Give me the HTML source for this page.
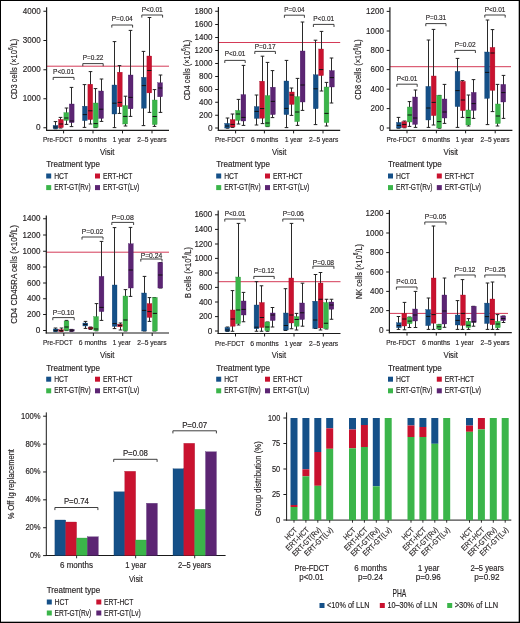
<!DOCTYPE html><html><head><meta charset="utf-8"><title>Figure</title><style>html,body{margin:0;padding:0;background:#fff;overflow:hidden;}svg{display:block;will-change:transform;}text{font-family:"Liberation Sans", sans-serif;stroke:#231f20;stroke-width:0.16px;}</style></head><body>
<svg width="520" height="623" viewBox="0 0 520 623">
<rect x="0" y="0" width="520" height="623" fill="#fff"/>
<line x1="46.6" y1="66.2" x2="169" y2="66.2" stroke="#d43a57" stroke-width="1"/>
<line x1="55.5" y1="121.6" x2="55.5" y2="128.8" stroke="#2a2a2a" stroke-width="1"/>
<line x1="53.7" y1="121.6" x2="57.3" y2="121.6" stroke="#222" stroke-width="1"/>
<line x1="53.7" y1="128.8" x2="57.3" y2="128.8" stroke="#222" stroke-width="1"/>
<rect x="53.1" y="125.4" width="4.8" height="3.2" fill="#155088" stroke="#0f3f70" stroke-width="0.35"/>
<line x1="53.4" y1="127" x2="57.6" y2="127" stroke="#111" stroke-width="1"/>
<line x1="60.5" y1="117.4" x2="60.5" y2="128" stroke="#2a2a2a" stroke-width="1"/>
<line x1="58.7" y1="117.4" x2="62.3" y2="117.4" stroke="#222" stroke-width="1"/>
<line x1="58.7" y1="128" x2="62.3" y2="128" stroke="#222" stroke-width="1"/>
<rect x="58.5" y="119.4" width="4.8" height="8.2" fill="#c9122f" stroke="#a80f29" stroke-width="0.35"/>
<line x1="58.8" y1="124" x2="63" y2="124" stroke="#111" stroke-width="1"/>
<line x1="66.5" y1="108" x2="66.5" y2="124.4" stroke="#2a2a2a" stroke-width="1"/>
<line x1="64.7" y1="108" x2="68.3" y2="108" stroke="#222" stroke-width="1"/>
<line x1="64.7" y1="124.4" x2="68.3" y2="124.4" stroke="#222" stroke-width="1"/>
<rect x="63.9" y="112.6" width="4.8" height="7.8" fill="#3bb54a" stroke="#2f9a3d" stroke-width="0.35"/>
<line x1="64.2" y1="118" x2="68.4" y2="118" stroke="#111" stroke-width="1"/>
<line x1="71.5" y1="87.4" x2="71.5" y2="126.6" stroke="#2a2a2a" stroke-width="1"/>
<line x1="69.7" y1="87.4" x2="73.3" y2="87.4" stroke="#222" stroke-width="1"/>
<line x1="69.7" y1="126.6" x2="73.3" y2="126.6" stroke="#222" stroke-width="1"/>
<rect x="69.3" y="104" width="4.8" height="18.6" fill="#5c2573" stroke="#471866" stroke-width="0.35"/>
<line x1="69.6" y1="121" x2="73.8" y2="121" stroke="#111" stroke-width="1"/>
<line x1="84.5" y1="84.6" x2="84.5" y2="127.4" stroke="#2a2a2a" stroke-width="1"/>
<line x1="82.7" y1="84.6" x2="86.3" y2="84.6" stroke="#222" stroke-width="1"/>
<line x1="82.7" y1="127.4" x2="86.3" y2="127.4" stroke="#222" stroke-width="1"/>
<rect x="82.5" y="106.2" width="4.8" height="14.4" fill="#155088" stroke="#0f3f70" stroke-width="0.35"/>
<line x1="82.8" y1="114.6" x2="87" y2="114.6" stroke="#111" stroke-width="1"/>
<line x1="90.5" y1="71.6" x2="90.5" y2="124" stroke="#2a2a2a" stroke-width="1"/>
<line x1="88.7" y1="71.6" x2="92.3" y2="71.6" stroke="#222" stroke-width="1"/>
<line x1="88.7" y1="124" x2="92.3" y2="124" stroke="#222" stroke-width="1"/>
<rect x="87.9" y="84.2" width="4.8" height="35.4" fill="#c9122f" stroke="#a80f29" stroke-width="0.35"/>
<line x1="88.2" y1="110.8" x2="92.4" y2="110.8" stroke="#111" stroke-width="1"/>
<line x1="95.5" y1="88.6" x2="95.5" y2="127.6" stroke="#2a2a2a" stroke-width="1"/>
<line x1="93.7" y1="88.6" x2="97.3" y2="88.6" stroke="#222" stroke-width="1"/>
<line x1="93.7" y1="127.6" x2="97.3" y2="127.6" stroke="#222" stroke-width="1"/>
<rect x="93.3" y="103" width="4.8" height="24.4" fill="#3bb54a" stroke="#2f9a3d" stroke-width="0.35"/>
<line x1="93.6" y1="123.6" x2="97.8" y2="123.6" stroke="#111" stroke-width="1"/>
<line x1="101.5" y1="79" x2="101.5" y2="121.4" stroke="#2a2a2a" stroke-width="1"/>
<line x1="99.7" y1="79" x2="103.3" y2="79" stroke="#222" stroke-width="1"/>
<line x1="99.7" y1="121.4" x2="103.3" y2="121.4" stroke="#222" stroke-width="1"/>
<rect x="98.7" y="91" width="4.8" height="27.4" fill="#5c2573" stroke="#471866" stroke-width="0.35"/>
<line x1="99" y1="109.2" x2="103.2" y2="109.2" stroke="#111" stroke-width="1"/>
<line x1="114.5" y1="41.6" x2="114.5" y2="127.6" stroke="#2a2a2a" stroke-width="1"/>
<line x1="112.7" y1="41.6" x2="116.3" y2="41.6" stroke="#222" stroke-width="1"/>
<line x1="112.7" y1="127.6" x2="116.3" y2="127.6" stroke="#222" stroke-width="1"/>
<rect x="112" y="85" width="4.8" height="29" fill="#155088" stroke="#0f3f70" stroke-width="0.35"/>
<line x1="112.3" y1="103.2" x2="116.5" y2="103.2" stroke="#111" stroke-width="1"/>
<line x1="119.5" y1="65.6" x2="119.5" y2="113.4" stroke="#2a2a2a" stroke-width="1"/>
<line x1="117.7" y1="65.6" x2="121.3" y2="65.6" stroke="#222" stroke-width="1"/>
<line x1="117.7" y1="113.4" x2="121.3" y2="113.4" stroke="#222" stroke-width="1"/>
<rect x="117.4" y="72.2" width="4.8" height="34.6" fill="#c9122f" stroke="#a80f29" stroke-width="0.35"/>
<line x1="117.7" y1="102.4" x2="121.9" y2="102.4" stroke="#111" stroke-width="1"/>
<line x1="125.5" y1="96.2" x2="125.5" y2="126" stroke="#2a2a2a" stroke-width="1"/>
<line x1="123.7" y1="96.2" x2="127.3" y2="96.2" stroke="#222" stroke-width="1"/>
<line x1="123.7" y1="126" x2="127.3" y2="126" stroke="#222" stroke-width="1"/>
<rect x="122.8" y="105.6" width="4.8" height="18.4" fill="#3bb54a" stroke="#2f9a3d" stroke-width="0.35"/>
<line x1="123.1" y1="116.4" x2="127.3" y2="116.4" stroke="#111" stroke-width="1"/>
<line x1="130.5" y1="30.4" x2="130.5" y2="116.4" stroke="#2a2a2a" stroke-width="1"/>
<line x1="128.7" y1="30.4" x2="132.3" y2="30.4" stroke="#222" stroke-width="1"/>
<line x1="128.7" y1="116.4" x2="132.3" y2="116.4" stroke="#222" stroke-width="1"/>
<rect x="128.2" y="75" width="4.8" height="33.8" fill="#5c2573" stroke="#471866" stroke-width="0.35"/>
<line x1="128.5" y1="97.4" x2="132.7" y2="97.4" stroke="#111" stroke-width="1"/>
<line x1="143.5" y1="51.4" x2="143.5" y2="125.6" stroke="#2a2a2a" stroke-width="1"/>
<line x1="141.7" y1="51.4" x2="145.3" y2="51.4" stroke="#222" stroke-width="1"/>
<line x1="141.7" y1="125.6" x2="145.3" y2="125.6" stroke="#222" stroke-width="1"/>
<rect x="141.5" y="77.3" width="4.8" height="30.9" fill="#155088" stroke="#0f3f70" stroke-width="0.35"/>
<line x1="141.8" y1="85.6" x2="146" y2="85.6" stroke="#111" stroke-width="1"/>
<line x1="149.5" y1="17.5" x2="149.5" y2="112.4" stroke="#2a2a2a" stroke-width="1"/>
<line x1="147.7" y1="17.5" x2="151.3" y2="17.5" stroke="#222" stroke-width="1"/>
<line x1="147.7" y1="112.4" x2="151.3" y2="112.4" stroke="#222" stroke-width="1"/>
<rect x="146.9" y="56" width="4.8" height="36.9" fill="#c9122f" stroke="#a80f29" stroke-width="0.35"/>
<line x1="147.2" y1="70.5" x2="151.4" y2="70.5" stroke="#111" stroke-width="1"/>
<line x1="154.5" y1="89.6" x2="154.5" y2="126.4" stroke="#2a2a2a" stroke-width="1"/>
<line x1="152.7" y1="89.6" x2="156.3" y2="89.6" stroke="#222" stroke-width="1"/>
<line x1="152.7" y1="126.4" x2="156.3" y2="126.4" stroke="#222" stroke-width="1"/>
<rect x="152.3" y="100" width="4.8" height="24.6" fill="#3bb54a" stroke="#2f9a3d" stroke-width="0.35"/>
<line x1="152.6" y1="116.5" x2="156.8" y2="116.5" stroke="#111" stroke-width="1"/>
<line x1="160.5" y1="75" x2="160.5" y2="112.4" stroke="#2a2a2a" stroke-width="1"/>
<line x1="158.7" y1="75" x2="162.3" y2="75" stroke="#222" stroke-width="1"/>
<line x1="158.7" y1="112.4" x2="162.3" y2="112.4" stroke="#222" stroke-width="1"/>
<rect x="157.7" y="82.8" width="4.8" height="14" fill="#5c2573" stroke="#471866" stroke-width="0.35"/>
<line x1="158" y1="88" x2="162.2" y2="88" stroke="#111" stroke-width="1"/>
<line x1="46.6" y1="7.2" x2="46.6" y2="131" stroke="#1a1a1a" stroke-width="1.2"/>
<line x1="46" y1="130.4" x2="169" y2="130.4" stroke="#1a1a1a" stroke-width="1.2"/>
<line x1="43.4" y1="11.25" x2="46.6" y2="11.25" stroke="#1a1a1a" stroke-width="1"/>
<text x="22.8" y="13.75" font-size="8.6" textLength="17.9" lengthAdjust="spacingAndGlyphs" fill="#231f20">4000</text>
<line x1="43.4" y1="40.5" x2="46.6" y2="40.5" stroke="#1a1a1a" stroke-width="1"/>
<text x="22.8" y="43" font-size="8.6" textLength="17.9" lengthAdjust="spacingAndGlyphs" fill="#231f20">3000</text>
<line x1="43.4" y1="69.75" x2="46.6" y2="69.75" stroke="#1a1a1a" stroke-width="1"/>
<text x="22.8" y="72.25" font-size="8.6" textLength="17.9" lengthAdjust="spacingAndGlyphs" fill="#231f20">2000</text>
<line x1="43.4" y1="98.75" x2="46.6" y2="98.75" stroke="#1a1a1a" stroke-width="1"/>
<text x="22.8" y="101.25" font-size="8.6" textLength="17.9" lengthAdjust="spacingAndGlyphs" fill="#231f20">1000</text>
<line x1="43.4" y1="127.75" x2="46.6" y2="127.75" stroke="#1a1a1a" stroke-width="1"/>
<text x="36.1" y="130.25" font-size="8.6" textLength="4.6" lengthAdjust="spacingAndGlyphs" fill="#231f20">0</text>
<line x1="63.6" y1="130.4" x2="63.6" y2="133.4" stroke="#1a1a1a" stroke-width="1"/>
<line x1="93" y1="130.4" x2="93" y2="133.4" stroke="#1a1a1a" stroke-width="1"/>
<line x1="122.5" y1="130.4" x2="122.5" y2="133.4" stroke="#1a1a1a" stroke-width="1"/>
<line x1="152" y1="130.4" x2="152" y2="133.4" stroke="#1a1a1a" stroke-width="1"/>
<path d="M53.2 80V77.4H74V80" fill="none" stroke="#2a2a2a" stroke-width="0.9"/>
<text x="53.05" y="74" font-size="7.9" textLength="21.1" lengthAdjust="spacingAndGlyphs" fill="#231f20">P&lt;0.01</text>
<path d="M82.8 66.2V63.6H103.2V66.2" fill="none" stroke="#2a2a2a" stroke-width="0.9"/>
<text x="82.65" y="59.8" font-size="7.9" textLength="20.7" lengthAdjust="spacingAndGlyphs" fill="#231f20">P=0.22</text>
<path d="M111.8 27.6V25H132.6V27.6" fill="none" stroke="#2a2a2a" stroke-width="0.9"/>
<text x="111.65" y="21.2" font-size="7.9" textLength="21.1" lengthAdjust="spacingAndGlyphs" fill="#231f20">P=0.04</text>
<path d="M141.8 17.6V15H162.6V17.6" fill="none" stroke="#2a2a2a" stroke-width="0.9"/>
<text x="141.65" y="12" font-size="7.9" textLength="21.1" lengthAdjust="spacingAndGlyphs" fill="#231f20">P&lt;0.01</text>
<text x="43" y="142.2" font-size="7.6" textLength="29.6" lengthAdjust="spacingAndGlyphs" fill="#231f20">Pre-FDCT</text>
<text x="78.8" y="142.2" font-size="7.6" textLength="27.8" lengthAdjust="spacingAndGlyphs" fill="#231f20">6 months</text>
<text x="112.8" y="142.2" font-size="7.6" textLength="17.8" lengthAdjust="spacingAndGlyphs" fill="#231f20">1 year</text>
<text x="137.2" y="142.2" font-size="7.6" textLength="29.4" lengthAdjust="spacingAndGlyphs" fill="#231f20">2–5 years</text>
<text x="100" y="155" font-size="9.6" textLength="14.4" lengthAdjust="spacingAndGlyphs" fill="#231f20" stroke-width="0">Visit</text>
<text transform="translate(16.6 69) rotate(-90)" x="-30.35" y="0" font-size="9.7" textLength="60.7" lengthAdjust="spacingAndGlyphs" fill="#231f20">CD3 cells (×10<tspan dy="-3.3" font-size="6.4">6</tspan><tspan dy="3.3">/L)</tspan></text>
<text x="46.2" y="167.4" font-size="8.3" textLength="53.8" lengthAdjust="spacingAndGlyphs" fill="#231f20">Treatment type</text>
<rect x="46.2" y="173.5" width="5" height="5" fill="#155088"/>
<text x="54.2" y="178.5" font-size="8.4" textLength="14" lengthAdjust="spacingAndGlyphs" fill="#231f20">HCT</text>
<rect x="95" y="173.5" width="5" height="5" fill="#c9122f"/>
<text x="103" y="178.5" font-size="8.4" textLength="29.4" lengthAdjust="spacingAndGlyphs" fill="#231f20">ERT-HCT</text>
<rect x="46.2" y="185.1" width="5" height="5" fill="#3bb54a"/>
<text x="54.2" y="190.1" font-size="8.4" textLength="36.4" lengthAdjust="spacingAndGlyphs" fill="#231f20">ERT-GT(Rv)</text>
<rect x="95" y="185.1" width="5" height="5" fill="#5c2573"/>
<text x="103" y="190.1" font-size="8.4" textLength="36.3" lengthAdjust="spacingAndGlyphs" fill="#231f20">ERT-GT(Lv)</text>
<line x1="218.4" y1="42.5" x2="340.2" y2="42.5" stroke="#d43a57" stroke-width="1"/>
<line x1="227.5" y1="118" x2="227.5" y2="128.2" stroke="#2a2a2a" stroke-width="1"/>
<line x1="225.7" y1="118" x2="229.3" y2="118" stroke="#222" stroke-width="1"/>
<line x1="225.7" y1="128.2" x2="229.3" y2="128.2" stroke="#222" stroke-width="1"/>
<rect x="224.8" y="123.4" width="4.8" height="4.6" fill="#155088" stroke="#0f3f70" stroke-width="0.35"/>
<line x1="225.1" y1="126" x2="229.3" y2="126" stroke="#111" stroke-width="1"/>
<line x1="232.5" y1="114" x2="232.5" y2="127.4" stroke="#2a2a2a" stroke-width="1"/>
<line x1="230.7" y1="114" x2="234.3" y2="114" stroke="#222" stroke-width="1"/>
<line x1="230.7" y1="127.4" x2="234.3" y2="127.4" stroke="#222" stroke-width="1"/>
<rect x="230.2" y="119.6" width="4.8" height="7.4" fill="#c9122f" stroke="#a80f29" stroke-width="0.35"/>
<line x1="230.5" y1="124.4" x2="234.7" y2="124.4" stroke="#111" stroke-width="1"/>
<line x1="238.5" y1="99.4" x2="238.5" y2="124" stroke="#2a2a2a" stroke-width="1"/>
<line x1="236.7" y1="99.4" x2="240.3" y2="99.4" stroke="#222" stroke-width="1"/>
<line x1="236.7" y1="124" x2="240.3" y2="124" stroke="#222" stroke-width="1"/>
<rect x="235.6" y="110.4" width="4.8" height="10" fill="#3bb54a" stroke="#2f9a3d" stroke-width="0.35"/>
<line x1="235.9" y1="114" x2="240.1" y2="114" stroke="#111" stroke-width="1"/>
<line x1="243.5" y1="65.4" x2="243.5" y2="125.4" stroke="#2a2a2a" stroke-width="1"/>
<line x1="241.7" y1="65.4" x2="245.3" y2="65.4" stroke="#222" stroke-width="1"/>
<line x1="241.7" y1="125.4" x2="245.3" y2="125.4" stroke="#222" stroke-width="1"/>
<rect x="241" y="94.6" width="4.8" height="26.4" fill="#5c2573" stroke="#471866" stroke-width="0.35"/>
<line x1="241.3" y1="117.4" x2="245.5" y2="117.4" stroke="#111" stroke-width="1"/>
<line x1="256.5" y1="95" x2="256.5" y2="125" stroke="#2a2a2a" stroke-width="1"/>
<line x1="254.7" y1="95" x2="258.3" y2="95" stroke="#222" stroke-width="1"/>
<line x1="254.7" y1="125" x2="258.3" y2="125" stroke="#222" stroke-width="1"/>
<rect x="254.3" y="106.6" width="4.8" height="11.8" fill="#155088" stroke="#0f3f70" stroke-width="0.35"/>
<line x1="254.6" y1="111.4" x2="258.8" y2="111.4" stroke="#111" stroke-width="1"/>
<line x1="262.5" y1="56.2" x2="262.5" y2="123.6" stroke="#2a2a2a" stroke-width="1"/>
<line x1="260.7" y1="56.2" x2="264.3" y2="56.2" stroke="#222" stroke-width="1"/>
<line x1="260.7" y1="123.6" x2="264.3" y2="123.6" stroke="#222" stroke-width="1"/>
<rect x="259.7" y="81.2" width="4.8" height="37" fill="#c9122f" stroke="#a80f29" stroke-width="0.35"/>
<line x1="260" y1="108.6" x2="264.2" y2="108.6" stroke="#111" stroke-width="1"/>
<line x1="267.5" y1="62.4" x2="267.5" y2="126.6" stroke="#2a2a2a" stroke-width="1"/>
<line x1="265.7" y1="62.4" x2="269.3" y2="62.4" stroke="#222" stroke-width="1"/>
<line x1="265.7" y1="126.6" x2="269.3" y2="126.6" stroke="#222" stroke-width="1"/>
<rect x="265.1" y="95.6" width="4.8" height="30.8" fill="#3bb54a" stroke="#2f9a3d" stroke-width="0.35"/>
<line x1="265.4" y1="123" x2="269.6" y2="123" stroke="#111" stroke-width="1"/>
<line x1="272.5" y1="70.6" x2="272.5" y2="117.6" stroke="#2a2a2a" stroke-width="1"/>
<line x1="270.7" y1="70.6" x2="274.3" y2="70.6" stroke="#222" stroke-width="1"/>
<line x1="270.7" y1="117.6" x2="274.3" y2="117.6" stroke="#222" stroke-width="1"/>
<rect x="270.5" y="87.2" width="4.8" height="27.4" fill="#5c2573" stroke="#471866" stroke-width="0.35"/>
<line x1="270.8" y1="101.4" x2="275" y2="101.4" stroke="#111" stroke-width="1"/>
<line x1="286.5" y1="60.4" x2="286.5" y2="127.6" stroke="#2a2a2a" stroke-width="1"/>
<line x1="284.7" y1="60.4" x2="288.3" y2="60.4" stroke="#222" stroke-width="1"/>
<line x1="284.7" y1="127.6" x2="288.3" y2="127.6" stroke="#222" stroke-width="1"/>
<rect x="284" y="81" width="4.8" height="33.6" fill="#155088" stroke="#0f3f70" stroke-width="0.35"/>
<line x1="284.3" y1="108.4" x2="288.5" y2="108.4" stroke="#111" stroke-width="1"/>
<line x1="291.5" y1="88" x2="291.5" y2="115.4" stroke="#2a2a2a" stroke-width="1"/>
<line x1="289.7" y1="88" x2="293.3" y2="88" stroke="#222" stroke-width="1"/>
<line x1="289.7" y1="115.4" x2="293.3" y2="115.4" stroke="#222" stroke-width="1"/>
<rect x="289.4" y="92" width="4.8" height="12.4" fill="#c9122f" stroke="#a80f29" stroke-width="0.35"/>
<line x1="289.7" y1="95" x2="293.9" y2="95" stroke="#111" stroke-width="1"/>
<line x1="297.5" y1="78.4" x2="297.5" y2="125.4" stroke="#2a2a2a" stroke-width="1"/>
<line x1="295.7" y1="78.4" x2="299.3" y2="78.4" stroke="#222" stroke-width="1"/>
<line x1="295.7" y1="125.4" x2="299.3" y2="125.4" stroke="#222" stroke-width="1"/>
<rect x="294.8" y="96.6" width="4.8" height="25" fill="#3bb54a" stroke="#2f9a3d" stroke-width="0.35"/>
<line x1="295.1" y1="112" x2="299.3" y2="112" stroke="#111" stroke-width="1"/>
<line x1="302.5" y1="22" x2="302.5" y2="110.4" stroke="#2a2a2a" stroke-width="1"/>
<line x1="300.7" y1="22" x2="304.3" y2="22" stroke="#222" stroke-width="1"/>
<line x1="300.7" y1="110.4" x2="304.3" y2="110.4" stroke="#222" stroke-width="1"/>
<rect x="300.2" y="51" width="4.8" height="51" fill="#5c2573" stroke="#471866" stroke-width="0.35"/>
<line x1="300.5" y1="85" x2="304.7" y2="85" stroke="#111" stroke-width="1"/>
<line x1="315.5" y1="40.2" x2="315.5" y2="124.6" stroke="#2a2a2a" stroke-width="1"/>
<line x1="313.7" y1="40.2" x2="317.3" y2="40.2" stroke="#222" stroke-width="1"/>
<line x1="313.7" y1="124.6" x2="317.3" y2="124.6" stroke="#222" stroke-width="1"/>
<rect x="313.3" y="74.8" width="4.8" height="33.9" fill="#155088" stroke="#0f3f70" stroke-width="0.35"/>
<line x1="313.6" y1="88.8" x2="317.8" y2="88.8" stroke="#111" stroke-width="1"/>
<line x1="321.5" y1="31.4" x2="321.5" y2="91" stroke="#2a2a2a" stroke-width="1"/>
<line x1="319.7" y1="31.4" x2="323.3" y2="31.4" stroke="#222" stroke-width="1"/>
<line x1="319.7" y1="91" x2="323.3" y2="91" stroke="#222" stroke-width="1"/>
<rect x="318.7" y="49" width="4.8" height="26.6" fill="#c9122f" stroke="#a80f29" stroke-width="0.35"/>
<line x1="319" y1="69.6" x2="323.2" y2="69.6" stroke="#111" stroke-width="1"/>
<line x1="326.5" y1="82.4" x2="326.5" y2="126" stroke="#2a2a2a" stroke-width="1"/>
<line x1="324.7" y1="82.4" x2="328.3" y2="82.4" stroke="#222" stroke-width="1"/>
<line x1="324.7" y1="126" x2="328.3" y2="126" stroke="#222" stroke-width="1"/>
<rect x="324.1" y="87" width="4.8" height="35.6" fill="#3bb54a" stroke="#2f9a3d" stroke-width="0.35"/>
<line x1="324.4" y1="113.4" x2="328.6" y2="113.4" stroke="#111" stroke-width="1"/>
<line x1="331.5" y1="58" x2="331.5" y2="103" stroke="#2a2a2a" stroke-width="1"/>
<line x1="329.7" y1="58" x2="333.3" y2="58" stroke="#222" stroke-width="1"/>
<line x1="329.7" y1="103" x2="333.3" y2="103" stroke="#222" stroke-width="1"/>
<rect x="329.5" y="70.6" width="4.8" height="16.4" fill="#5c2573" stroke="#471866" stroke-width="0.35"/>
<line x1="329.8" y1="77.6" x2="334" y2="77.6" stroke="#111" stroke-width="1"/>
<line x1="218.4" y1="7.1" x2="218.4" y2="131" stroke="#1a1a1a" stroke-width="1.2"/>
<line x1="217.8" y1="130.4" x2="340.2" y2="130.4" stroke="#1a1a1a" stroke-width="1.2"/>
<line x1="215.2" y1="11.25" x2="218.4" y2="11.25" stroke="#1a1a1a" stroke-width="1"/>
<text x="194.6" y="13.75" font-size="8.6" textLength="17.9" lengthAdjust="spacingAndGlyphs" fill="#231f20">1800</text>
<line x1="215.2" y1="24.5" x2="218.4" y2="24.5" stroke="#1a1a1a" stroke-width="1"/>
<text x="194.6" y="27" font-size="8.6" textLength="17.9" lengthAdjust="spacingAndGlyphs" fill="#231f20">1600</text>
<line x1="215.2" y1="37.5" x2="218.4" y2="37.5" stroke="#1a1a1a" stroke-width="1"/>
<text x="194.6" y="40" font-size="8.6" textLength="17.9" lengthAdjust="spacingAndGlyphs" fill="#231f20">1400</text>
<line x1="215.2" y1="50.5" x2="218.4" y2="50.5" stroke="#1a1a1a" stroke-width="1"/>
<text x="194.6" y="53" font-size="8.6" textLength="17.9" lengthAdjust="spacingAndGlyphs" fill="#231f20">1200</text>
<line x1="215.2" y1="63.5" x2="218.4" y2="63.5" stroke="#1a1a1a" stroke-width="1"/>
<text x="194.6" y="66" font-size="8.6" textLength="17.9" lengthAdjust="spacingAndGlyphs" fill="#231f20">1000</text>
<line x1="215.2" y1="76.5" x2="218.4" y2="76.5" stroke="#1a1a1a" stroke-width="1"/>
<text x="199.1" y="79" font-size="8.6" textLength="13.4" lengthAdjust="spacingAndGlyphs" fill="#231f20">800</text>
<line x1="215.2" y1="89.5" x2="218.4" y2="89.5" stroke="#1a1a1a" stroke-width="1"/>
<text x="199.1" y="92" font-size="8.6" textLength="13.4" lengthAdjust="spacingAndGlyphs" fill="#231f20">600</text>
<line x1="215.2" y1="102.25" x2="218.4" y2="102.25" stroke="#1a1a1a" stroke-width="1"/>
<text x="199.1" y="104.75" font-size="8.6" textLength="13.4" lengthAdjust="spacingAndGlyphs" fill="#231f20">400</text>
<line x1="215.2" y1="115.25" x2="218.4" y2="115.25" stroke="#1a1a1a" stroke-width="1"/>
<text x="199.1" y="117.75" font-size="8.6" textLength="13.4" lengthAdjust="spacingAndGlyphs" fill="#231f20">200</text>
<line x1="215.2" y1="128" x2="218.4" y2="128" stroke="#1a1a1a" stroke-width="1"/>
<text x="207.9" y="130.5" font-size="8.6" textLength="4.6" lengthAdjust="spacingAndGlyphs" fill="#231f20">0</text>
<line x1="235.6" y1="130.4" x2="235.6" y2="133.4" stroke="#1a1a1a" stroke-width="1"/>
<line x1="264.4" y1="130.4" x2="264.4" y2="133.4" stroke="#1a1a1a" stroke-width="1"/>
<line x1="293.6" y1="130.4" x2="293.6" y2="133.4" stroke="#1a1a1a" stroke-width="1"/>
<line x1="323" y1="130.4" x2="323" y2="133.4" stroke="#1a1a1a" stroke-width="1"/>
<path d="M224.8 63V60.4H245.2V63" fill="none" stroke="#2a2a2a" stroke-width="0.9"/>
<text x="224.65" y="56" font-size="7.9" textLength="20.7" lengthAdjust="spacingAndGlyphs" fill="#231f20">P&lt;0.01</text>
<path d="M254.8 54V51.4H275.4V54" fill="none" stroke="#2a2a2a" stroke-width="0.9"/>
<text x="254.65" y="49" font-size="7.9" textLength="20.9" lengthAdjust="spacingAndGlyphs" fill="#231f20">P=0.17</text>
<path d="M284.4 17.8V15.2H304.4V17.8" fill="none" stroke="#2a2a2a" stroke-width="0.9"/>
<text x="284.25" y="12" font-size="7.9" textLength="20.3" lengthAdjust="spacingAndGlyphs" fill="#231f20">P=0.04</text>
<path d="M313.4 27V24.4H334V27" fill="none" stroke="#2a2a2a" stroke-width="0.9"/>
<text x="313.25" y="21" font-size="7.9" textLength="20.9" lengthAdjust="spacingAndGlyphs" fill="#231f20">P&lt;0.01</text>
<text x="215" y="142.3" font-size="7.6" textLength="29.6" lengthAdjust="spacingAndGlyphs" fill="#231f20">Pre-FDCT</text>
<text x="251" y="142.3" font-size="7.6" textLength="27.4" lengthAdjust="spacingAndGlyphs" fill="#231f20">6 months</text>
<text x="285" y="142.3" font-size="7.6" textLength="17.4" lengthAdjust="spacingAndGlyphs" fill="#231f20">1 year</text>
<text x="309" y="142.3" font-size="7.6" textLength="29.4" lengthAdjust="spacingAndGlyphs" fill="#231f20">2–5 years</text>
<text x="272" y="155" font-size="9.6" textLength="14.4" lengthAdjust="spacingAndGlyphs" fill="#231f20" stroke-width="0">Visit</text>
<text transform="translate(189.6 70) rotate(-90)" x="-30.35" y="0" font-size="9.7" textLength="60.7" lengthAdjust="spacingAndGlyphs" fill="#231f20">CD4 cells (×10<tspan dy="-3.3" font-size="6.4">6</tspan><tspan dy="3.3">/L)</tspan></text>
<text x="216.2" y="167.4" font-size="8.3" textLength="53.8" lengthAdjust="spacingAndGlyphs" fill="#231f20">Treatment type</text>
<rect x="216.2" y="173.5" width="5" height="5" fill="#155088"/>
<text x="224.2" y="178.5" font-size="8.4" textLength="14" lengthAdjust="spacingAndGlyphs" fill="#231f20">HCT</text>
<rect x="265" y="173.5" width="5" height="5" fill="#c9122f"/>
<text x="273" y="178.5" font-size="8.4" textLength="29.4" lengthAdjust="spacingAndGlyphs" fill="#231f20">ERT-HCT</text>
<rect x="216.2" y="185.1" width="5" height="5" fill="#3bb54a"/>
<text x="224.2" y="190.1" font-size="8.4" textLength="36.4" lengthAdjust="spacingAndGlyphs" fill="#231f20">ERT-GT(Rv)</text>
<rect x="265" y="185.1" width="5" height="5" fill="#5c2573"/>
<text x="273" y="190.1" font-size="8.4" textLength="36.3" lengthAdjust="spacingAndGlyphs" fill="#231f20">ERT-GT(Lv)</text>
<line x1="389.9" y1="66.7" x2="511" y2="66.7" stroke="#d43a57" stroke-width="1"/>
<line x1="398.5" y1="117.4" x2="398.5" y2="128.2" stroke="#2a2a2a" stroke-width="1"/>
<line x1="396.7" y1="117.4" x2="400.3" y2="117.4" stroke="#222" stroke-width="1"/>
<line x1="396.7" y1="128.2" x2="400.3" y2="128.2" stroke="#222" stroke-width="1"/>
<rect x="396.5" y="122.4" width="4.8" height="5.6" fill="#155088" stroke="#0f3f70" stroke-width="0.35"/>
<line x1="396.8" y1="125.4" x2="401" y2="125.4" stroke="#111" stroke-width="1"/>
<line x1="404.5" y1="121" x2="404.5" y2="127.8" stroke="#2a2a2a" stroke-width="1"/>
<line x1="402.7" y1="121" x2="406.3" y2="121" stroke="#222" stroke-width="1"/>
<line x1="402.7" y1="127.8" x2="406.3" y2="127.8" stroke="#222" stroke-width="1"/>
<rect x="401.9" y="121.6" width="4.8" height="6" fill="#c9122f" stroke="#a80f29" stroke-width="0.35"/>
<line x1="402.2" y1="124.4" x2="406.4" y2="124.4" stroke="#111" stroke-width="1"/>
<line x1="409.5" y1="101.6" x2="409.5" y2="126.4" stroke="#2a2a2a" stroke-width="1"/>
<line x1="407.7" y1="101.6" x2="411.3" y2="101.6" stroke="#222" stroke-width="1"/>
<line x1="407.7" y1="126.4" x2="411.3" y2="126.4" stroke="#222" stroke-width="1"/>
<rect x="407.3" y="107" width="4.8" height="15" fill="#3bb54a" stroke="#2f9a3d" stroke-width="0.35"/>
<line x1="407.6" y1="115" x2="411.8" y2="115" stroke="#111" stroke-width="1"/>
<line x1="415.5" y1="90" x2="415.5" y2="127.4" stroke="#2a2a2a" stroke-width="1"/>
<line x1="413.7" y1="90" x2="417.3" y2="90" stroke="#222" stroke-width="1"/>
<line x1="413.7" y1="127.4" x2="417.3" y2="127.4" stroke="#222" stroke-width="1"/>
<rect x="412.7" y="97" width="4.8" height="27.4" fill="#5c2573" stroke="#471866" stroke-width="0.35"/>
<line x1="413" y1="118" x2="417.2" y2="118" stroke="#111" stroke-width="1"/>
<line x1="428.5" y1="40" x2="428.5" y2="127.4" stroke="#2a2a2a" stroke-width="1"/>
<line x1="426.7" y1="40" x2="430.3" y2="40" stroke="#222" stroke-width="1"/>
<line x1="426.7" y1="127.4" x2="430.3" y2="127.4" stroke="#222" stroke-width="1"/>
<rect x="425.9" y="86.4" width="4.8" height="33.6" fill="#155088" stroke="#0f3f70" stroke-width="0.35"/>
<line x1="426.2" y1="108" x2="430.4" y2="108" stroke="#111" stroke-width="1"/>
<line x1="433.5" y1="29.4" x2="433.5" y2="125" stroke="#2a2a2a" stroke-width="1"/>
<line x1="431.7" y1="29.4" x2="435.3" y2="29.4" stroke="#222" stroke-width="1"/>
<line x1="431.7" y1="125" x2="435.3" y2="125" stroke="#222" stroke-width="1"/>
<rect x="431.3" y="76" width="4.8" height="39.6" fill="#c9122f" stroke="#a80f29" stroke-width="0.35"/>
<line x1="431.6" y1="102.4" x2="435.8" y2="102.4" stroke="#111" stroke-width="1"/>
<line x1="439.5" y1="95.4" x2="439.5" y2="128.2" stroke="#2a2a2a" stroke-width="1"/>
<line x1="437.7" y1="95.4" x2="441.3" y2="95.4" stroke="#222" stroke-width="1"/>
<line x1="437.7" y1="128.2" x2="441.3" y2="128.2" stroke="#222" stroke-width="1"/>
<rect x="436.7" y="95.4" width="4.8" height="32.6" fill="#3bb54a" stroke="#2f9a3d" stroke-width="0.35"/>
<line x1="437" y1="121.6" x2="441.2" y2="121.6" stroke="#111" stroke-width="1"/>
<line x1="444.5" y1="84.4" x2="444.5" y2="123.4" stroke="#2a2a2a" stroke-width="1"/>
<line x1="442.7" y1="84.4" x2="446.3" y2="84.4" stroke="#222" stroke-width="1"/>
<line x1="442.7" y1="123.4" x2="446.3" y2="123.4" stroke="#222" stroke-width="1"/>
<rect x="442.1" y="99" width="4.8" height="19" fill="#5c2573" stroke="#471866" stroke-width="0.35"/>
<line x1="442.4" y1="112" x2="446.6" y2="112" stroke="#111" stroke-width="1"/>
<line x1="457.5" y1="58.4" x2="457.5" y2="127.4" stroke="#2a2a2a" stroke-width="1"/>
<line x1="455.7" y1="58.4" x2="459.3" y2="58.4" stroke="#222" stroke-width="1"/>
<line x1="455.7" y1="127.4" x2="459.3" y2="127.4" stroke="#222" stroke-width="1"/>
<rect x="455.1" y="71.4" width="4.8" height="35.2" fill="#155088" stroke="#0f3f70" stroke-width="0.35"/>
<line x1="455.4" y1="90.6" x2="459.6" y2="90.6" stroke="#111" stroke-width="1"/>
<line x1="462.5" y1="80.6" x2="462.5" y2="117.4" stroke="#2a2a2a" stroke-width="1"/>
<line x1="460.7" y1="80.6" x2="464.3" y2="80.6" stroke="#222" stroke-width="1"/>
<line x1="460.7" y1="117.4" x2="464.3" y2="117.4" stroke="#222" stroke-width="1"/>
<rect x="460.5" y="81.4" width="4.8" height="29.2" fill="#c9122f" stroke="#a80f29" stroke-width="0.35"/>
<line x1="460.8" y1="100" x2="465" y2="100" stroke="#111" stroke-width="1"/>
<line x1="468.5" y1="95" x2="468.5" y2="126" stroke="#2a2a2a" stroke-width="1"/>
<line x1="466.7" y1="95" x2="470.3" y2="95" stroke="#222" stroke-width="1"/>
<line x1="466.7" y1="126" x2="470.3" y2="126" stroke="#222" stroke-width="1"/>
<rect x="465.9" y="110" width="4.8" height="15" fill="#3bb54a" stroke="#2f9a3d" stroke-width="0.35"/>
<line x1="466.2" y1="117.6" x2="470.4" y2="117.6" stroke="#111" stroke-width="1"/>
<line x1="473.5" y1="79.6" x2="473.5" y2="118.4" stroke="#2a2a2a" stroke-width="1"/>
<line x1="471.7" y1="79.6" x2="475.3" y2="79.6" stroke="#222" stroke-width="1"/>
<line x1="471.7" y1="118.4" x2="475.3" y2="118.4" stroke="#222" stroke-width="1"/>
<rect x="471.3" y="92.4" width="4.8" height="18" fill="#5c2573" stroke="#471866" stroke-width="0.35"/>
<line x1="471.6" y1="103.6" x2="475.8" y2="103.6" stroke="#111" stroke-width="1"/>
<line x1="487.5" y1="20" x2="487.5" y2="124.6" stroke="#2a2a2a" stroke-width="1"/>
<line x1="485.7" y1="20" x2="489.3" y2="20" stroke="#222" stroke-width="1"/>
<line x1="485.7" y1="124.6" x2="489.3" y2="124.6" stroke="#222" stroke-width="1"/>
<rect x="484.7" y="52" width="4.8" height="46.4" fill="#155088" stroke="#0f3f70" stroke-width="0.35"/>
<line x1="485" y1="72.4" x2="489.2" y2="72.4" stroke="#111" stroke-width="1"/>
<line x1="492.5" y1="29.6" x2="492.5" y2="111.6" stroke="#2a2a2a" stroke-width="1"/>
<line x1="490.7" y1="29.6" x2="494.3" y2="29.6" stroke="#222" stroke-width="1"/>
<line x1="490.7" y1="111.6" x2="494.3" y2="111.6" stroke="#222" stroke-width="1"/>
<rect x="490.1" y="47.4" width="4.8" height="43" fill="#c9122f" stroke="#a80f29" stroke-width="0.35"/>
<line x1="490.4" y1="53" x2="494.6" y2="53" stroke="#111" stroke-width="1"/>
<line x1="497.5" y1="84.4" x2="497.5" y2="126" stroke="#2a2a2a" stroke-width="1"/>
<line x1="495.7" y1="84.4" x2="499.3" y2="84.4" stroke="#222" stroke-width="1"/>
<line x1="495.7" y1="126" x2="499.3" y2="126" stroke="#222" stroke-width="1"/>
<rect x="495.5" y="104" width="4.8" height="19.6" fill="#3bb54a" stroke="#2f9a3d" stroke-width="0.35"/>
<line x1="495.8" y1="116" x2="500" y2="116" stroke="#111" stroke-width="1"/>
<line x1="503.5" y1="75.4" x2="503.5" y2="118.4" stroke="#2a2a2a" stroke-width="1"/>
<line x1="501.7" y1="75.4" x2="505.3" y2="75.4" stroke="#222" stroke-width="1"/>
<line x1="501.7" y1="118.4" x2="505.3" y2="118.4" stroke="#222" stroke-width="1"/>
<rect x="500.9" y="84.4" width="4.8" height="17.6" fill="#5c2573" stroke="#471866" stroke-width="0.35"/>
<line x1="501.2" y1="92.6" x2="505.4" y2="92.6" stroke="#111" stroke-width="1"/>
<line x1="389.9" y1="7.3" x2="389.9" y2="130.9" stroke="#1a1a1a" stroke-width="1.2"/>
<line x1="389.3" y1="130.3" x2="512.4" y2="130.3" stroke="#1a1a1a" stroke-width="1.2"/>
<line x1="386.7" y1="11.4" x2="389.9" y2="11.4" stroke="#1a1a1a" stroke-width="1"/>
<text x="366.1" y="13.9" font-size="8.6" textLength="17.9" lengthAdjust="spacingAndGlyphs" fill="#231f20">1200</text>
<line x1="386.7" y1="31" x2="389.9" y2="31" stroke="#1a1a1a" stroke-width="1"/>
<text x="366.1" y="33.5" font-size="8.6" textLength="17.9" lengthAdjust="spacingAndGlyphs" fill="#231f20">1000</text>
<line x1="386.7" y1="50.4" x2="389.9" y2="50.4" stroke="#1a1a1a" stroke-width="1"/>
<text x="370.6" y="52.9" font-size="8.6" textLength="13.4" lengthAdjust="spacingAndGlyphs" fill="#231f20">800</text>
<line x1="386.7" y1="69.6" x2="389.9" y2="69.6" stroke="#1a1a1a" stroke-width="1"/>
<text x="370.6" y="72.1" font-size="8.6" textLength="13.4" lengthAdjust="spacingAndGlyphs" fill="#231f20">600</text>
<line x1="386.7" y1="89.2" x2="389.9" y2="89.2" stroke="#1a1a1a" stroke-width="1"/>
<text x="370.6" y="91.7" font-size="8.6" textLength="13.4" lengthAdjust="spacingAndGlyphs" fill="#231f20">400</text>
<line x1="386.7" y1="108.6" x2="389.9" y2="108.6" stroke="#1a1a1a" stroke-width="1"/>
<text x="370.6" y="111.1" font-size="8.6" textLength="13.4" lengthAdjust="spacingAndGlyphs" fill="#231f20">200</text>
<line x1="386.7" y1="128" x2="389.9" y2="128" stroke="#1a1a1a" stroke-width="1"/>
<text x="379.4" y="130.5" font-size="8.6" textLength="4.6" lengthAdjust="spacingAndGlyphs" fill="#231f20">0</text>
<line x1="407" y1="130.3" x2="407" y2="133.3" stroke="#1a1a1a" stroke-width="1"/>
<line x1="436.4" y1="130.3" x2="436.4" y2="133.3" stroke="#1a1a1a" stroke-width="1"/>
<line x1="465.6" y1="130.3" x2="465.6" y2="133.3" stroke="#1a1a1a" stroke-width="1"/>
<line x1="495.2" y1="130.3" x2="495.2" y2="133.3" stroke="#1a1a1a" stroke-width="1"/>
<path d="M396.8 86.8V84.2H417.2V86.8" fill="none" stroke="#2a2a2a" stroke-width="0.9"/>
<text x="396.65" y="81" font-size="7.9" textLength="20.7" lengthAdjust="spacingAndGlyphs" fill="#231f20">P&lt;0.01</text>
<path d="M425.8 26.2V23.6H446V26.2" fill="none" stroke="#2a2a2a" stroke-width="0.9"/>
<text x="425.65" y="20" font-size="7.9" textLength="20.5" lengthAdjust="spacingAndGlyphs" fill="#231f20">P=0.31</text>
<path d="M454.8 53V50.4H475.4V53" fill="none" stroke="#2a2a2a" stroke-width="0.9"/>
<text x="454.65" y="47.4" font-size="7.9" textLength="20.9" lengthAdjust="spacingAndGlyphs" fill="#231f20">P=0.02</text>
<path d="M484.8 17.6V15H505.2V17.6" fill="none" stroke="#2a2a2a" stroke-width="0.9"/>
<text x="484.65" y="12" font-size="7.9" textLength="20.7" lengthAdjust="spacingAndGlyphs" fill="#231f20">P&lt;0.01</text>
<text x="386.4" y="142.2" font-size="7.6" textLength="29.6" lengthAdjust="spacingAndGlyphs" fill="#231f20">Pre-FDCT</text>
<text x="422.2" y="142.2" font-size="7.6" textLength="28" lengthAdjust="spacingAndGlyphs" fill="#231f20">6 months</text>
<text x="455.8" y="142.2" font-size="7.6" textLength="17.8" lengthAdjust="spacingAndGlyphs" fill="#231f20">1 year</text>
<text x="480.6" y="142.2" font-size="7.6" textLength="29" lengthAdjust="spacingAndGlyphs" fill="#231f20">2–5 years</text>
<text x="443.6" y="155" font-size="9.6" textLength="14.4" lengthAdjust="spacingAndGlyphs" fill="#231f20" stroke-width="0">Visit</text>
<text transform="translate(361.3 69.5) rotate(-90)" x="-30.35" y="0" font-size="9.7" textLength="60.7" lengthAdjust="spacingAndGlyphs" fill="#231f20">CD8 cells (×10<tspan dy="-3.3" font-size="6.4">6</tspan><tspan dy="3.3">/L)</tspan></text>
<text x="388" y="167.4" font-size="8.3" textLength="53.8" lengthAdjust="spacingAndGlyphs" fill="#231f20">Treatment type</text>
<rect x="388" y="173.5" width="5" height="5" fill="#155088"/>
<text x="396" y="178.5" font-size="8.4" textLength="14" lengthAdjust="spacingAndGlyphs" fill="#231f20">HCT</text>
<rect x="436.8" y="173.5" width="5" height="5" fill="#c9122f"/>
<text x="444.8" y="178.5" font-size="8.4" textLength="29.4" lengthAdjust="spacingAndGlyphs" fill="#231f20">ERT-HCT</text>
<rect x="388" y="185.1" width="5" height="5" fill="#3bb54a"/>
<text x="396" y="190.1" font-size="8.4" textLength="36.4" lengthAdjust="spacingAndGlyphs" fill="#231f20">ERT-GT(Rv)</text>
<rect x="436.8" y="185.1" width="5" height="5" fill="#5c2573"/>
<text x="444.8" y="190.1" font-size="8.4" textLength="36.3" lengthAdjust="spacingAndGlyphs" fill="#231f20">ERT-GT(Lv)</text>
<line x1="46.3" y1="252.2" x2="169" y2="252.2" stroke="#d43a57" stroke-width="1"/>
<line x1="55.5" y1="328" x2="55.5" y2="331.6" stroke="#2a2a2a" stroke-width="1"/>
<line x1="53.7" y1="328" x2="57.3" y2="328" stroke="#222" stroke-width="1"/>
<line x1="53.7" y1="331.6" x2="57.3" y2="331.6" stroke="#222" stroke-width="1"/>
<rect x="53.3" y="329" width="4.8" height="2.4" fill="#155088" stroke="#0f3f70" stroke-width="0.35"/>
<line x1="53.6" y1="330.4" x2="57.8" y2="330.4" stroke="#111" stroke-width="1"/>
<line x1="61.5" y1="328" x2="61.5" y2="331.6" stroke="#2a2a2a" stroke-width="1"/>
<line x1="59.7" y1="328" x2="63.3" y2="328" stroke="#222" stroke-width="1"/>
<line x1="59.7" y1="331.6" x2="63.3" y2="331.6" stroke="#222" stroke-width="1"/>
<rect x="58.7" y="329.6" width="4.8" height="1.8" fill="#c9122f" stroke="#a80f29" stroke-width="0.35"/>
<line x1="59" y1="330.6" x2="63.2" y2="330.6" stroke="#111" stroke-width="1"/>
<line x1="66.5" y1="320.4" x2="66.5" y2="330.6" stroke="#2a2a2a" stroke-width="1"/>
<line x1="64.7" y1="320.4" x2="68.3" y2="320.4" stroke="#222" stroke-width="1"/>
<line x1="64.7" y1="330.6" x2="68.3" y2="330.6" stroke="#222" stroke-width="1"/>
<rect x="64.1" y="321" width="4.8" height="9.4" fill="#3bb54a" stroke="#2f9a3d" stroke-width="0.35"/>
<line x1="64.4" y1="327" x2="68.6" y2="327" stroke="#111" stroke-width="1"/>
<line x1="71.5" y1="329.4" x2="71.5" y2="331.4" stroke="#2a2a2a" stroke-width="1"/>
<line x1="69.7" y1="329.4" x2="73.3" y2="329.4" stroke="#222" stroke-width="1"/>
<line x1="69.7" y1="331.4" x2="73.3" y2="331.4" stroke="#222" stroke-width="1"/>
<rect x="69.5" y="329.6" width="4.8" height="1.6" fill="#5c2573" stroke="#471866" stroke-width="0.35"/>
<line x1="69.8" y1="330.2" x2="74" y2="330.2" stroke="#111" stroke-width="1"/>
<line x1="85.5" y1="321.4" x2="85.5" y2="328.4" stroke="#2a2a2a" stroke-width="1"/>
<line x1="83.7" y1="321.4" x2="87.3" y2="321.4" stroke="#222" stroke-width="1"/>
<line x1="83.7" y1="328.4" x2="87.3" y2="328.4" stroke="#222" stroke-width="1"/>
<rect x="82.9" y="323" width="4.8" height="3" fill="#155088" stroke="#0f3f70" stroke-width="0.35"/>
<line x1="83.2" y1="324.4" x2="87.4" y2="324.4" stroke="#111" stroke-width="1"/>
<line x1="90.5" y1="327" x2="90.5" y2="329.4" stroke="#2a2a2a" stroke-width="1"/>
<line x1="88.7" y1="327" x2="92.3" y2="327" stroke="#222" stroke-width="1"/>
<line x1="88.7" y1="329.4" x2="92.3" y2="329.4" stroke="#222" stroke-width="1"/>
<rect x="88.3" y="327.2" width="4.8" height="1.8" fill="#c9122f" stroke="#a80f29" stroke-width="0.35"/>
<line x1="88.6" y1="328" x2="92.8" y2="328" stroke="#111" stroke-width="1"/>
<line x1="96.5" y1="303.6" x2="96.5" y2="330.8" stroke="#2a2a2a" stroke-width="1"/>
<line x1="94.7" y1="303.6" x2="98.3" y2="303.6" stroke="#222" stroke-width="1"/>
<line x1="94.7" y1="330.8" x2="98.3" y2="330.8" stroke="#222" stroke-width="1"/>
<rect x="93.7" y="316.6" width="4.8" height="14" fill="#3bb54a" stroke="#2f9a3d" stroke-width="0.35"/>
<line x1="94" y1="329" x2="98.2" y2="329" stroke="#111" stroke-width="1"/>
<line x1="101.5" y1="241.4" x2="101.5" y2="320.4" stroke="#2a2a2a" stroke-width="1"/>
<line x1="99.7" y1="241.4" x2="103.3" y2="241.4" stroke="#222" stroke-width="1"/>
<line x1="99.7" y1="320.4" x2="103.3" y2="320.4" stroke="#222" stroke-width="1"/>
<rect x="99.1" y="276.4" width="4.8" height="35.2" fill="#5c2573" stroke="#471866" stroke-width="0.35"/>
<line x1="99.4" y1="307.4" x2="103.6" y2="307.4" stroke="#111" stroke-width="1"/>
<line x1="114.5" y1="227.6" x2="114.5" y2="328.6" stroke="#2a2a2a" stroke-width="1"/>
<line x1="112.7" y1="227.6" x2="116.3" y2="227.6" stroke="#222" stroke-width="1"/>
<line x1="112.7" y1="328.6" x2="116.3" y2="328.6" stroke="#222" stroke-width="1"/>
<rect x="112.2" y="285" width="4.8" height="41.4" fill="#155088" stroke="#0f3f70" stroke-width="0.35"/>
<line x1="112.5" y1="323.6" x2="116.7" y2="323.6" stroke="#111" stroke-width="1"/>
<line x1="120.5" y1="323" x2="120.5" y2="330" stroke="#2a2a2a" stroke-width="1"/>
<line x1="118.7" y1="323" x2="122.3" y2="323" stroke="#222" stroke-width="1"/>
<line x1="118.7" y1="330" x2="122.3" y2="330" stroke="#222" stroke-width="1"/>
<rect x="117.6" y="324.2" width="4.8" height="2.6" fill="#c9122f" stroke="#a80f29" stroke-width="0.35"/>
<line x1="117.9" y1="325.4" x2="122.1" y2="325.4" stroke="#111" stroke-width="1"/>
<line x1="125.5" y1="289.6" x2="125.5" y2="331" stroke="#2a2a2a" stroke-width="1"/>
<line x1="123.7" y1="289.6" x2="127.3" y2="289.6" stroke="#222" stroke-width="1"/>
<line x1="123.7" y1="331" x2="127.3" y2="331" stroke="#222" stroke-width="1"/>
<rect x="123" y="296" width="4.8" height="34.8" fill="#3bb54a" stroke="#2f9a3d" stroke-width="0.35"/>
<line x1="123.3" y1="320" x2="127.5" y2="320" stroke="#111" stroke-width="1"/>
<line x1="130.5" y1="227.4" x2="130.5" y2="296.4" stroke="#2a2a2a" stroke-width="1"/>
<line x1="128.7" y1="227.4" x2="132.3" y2="227.4" stroke="#222" stroke-width="1"/>
<line x1="128.7" y1="296.4" x2="132.3" y2="296.4" stroke="#222" stroke-width="1"/>
<rect x="128.4" y="243.8" width="4.8" height="44.2" fill="#5c2573" stroke="#471866" stroke-width="0.35"/>
<line x1="128.7" y1="270" x2="132.9" y2="270" stroke="#111" stroke-width="1"/>
<line x1="144.5" y1="276.4" x2="144.5" y2="331" stroke="#2a2a2a" stroke-width="1"/>
<line x1="142.7" y1="276.4" x2="146.3" y2="276.4" stroke="#222" stroke-width="1"/>
<line x1="142.7" y1="331" x2="146.3" y2="331" stroke="#222" stroke-width="1"/>
<rect x="141.7" y="293" width="4.8" height="38" fill="#155088" stroke="#0f3f70" stroke-width="0.35"/>
<line x1="142" y1="310.4" x2="146.2" y2="310.4" stroke="#111" stroke-width="1"/>
<line x1="149.5" y1="297.6" x2="149.5" y2="321.4" stroke="#2a2a2a" stroke-width="1"/>
<line x1="147.7" y1="297.6" x2="151.3" y2="297.6" stroke="#222" stroke-width="1"/>
<line x1="147.7" y1="321.4" x2="151.3" y2="321.4" stroke="#222" stroke-width="1"/>
<rect x="147.1" y="303.6" width="4.8" height="13.8" fill="#c9122f" stroke="#a80f29" stroke-width="0.35"/>
<line x1="147.4" y1="311.6" x2="151.6" y2="311.6" stroke="#111" stroke-width="1"/>
<line x1="154.5" y1="297.6" x2="154.5" y2="331" stroke="#2a2a2a" stroke-width="1"/>
<line x1="152.7" y1="297.6" x2="156.3" y2="297.6" stroke="#222" stroke-width="1"/>
<line x1="152.7" y1="331" x2="156.3" y2="331" stroke="#222" stroke-width="1"/>
<rect x="152.5" y="297.6" width="4.8" height="33.4" fill="#3bb54a" stroke="#2f9a3d" stroke-width="0.35"/>
<line x1="152.8" y1="313.4" x2="157" y2="313.4" stroke="#111" stroke-width="1"/>
<line x1="160.5" y1="262.6" x2="160.5" y2="288" stroke="#2a2a2a" stroke-width="1"/>
<line x1="158.7" y1="262.6" x2="162.3" y2="262.6" stroke="#222" stroke-width="1"/>
<line x1="158.7" y1="288" x2="162.3" y2="288" stroke="#222" stroke-width="1"/>
<rect x="157.9" y="262.6" width="4.8" height="25.4" fill="#5c2573" stroke="#471866" stroke-width="0.35"/>
<line x1="158.2" y1="275" x2="162.4" y2="275" stroke="#111" stroke-width="1"/>
<line x1="46.3" y1="215.4" x2="46.3" y2="333.6" stroke="#1a1a1a" stroke-width="1.2"/>
<line x1="45.7" y1="333" x2="169" y2="333" stroke="#1a1a1a" stroke-width="1.2"/>
<line x1="43.1" y1="218.75" x2="46.3" y2="218.75" stroke="#1a1a1a" stroke-width="1"/>
<text x="22.5" y="221.25" font-size="8.6" textLength="17.9" lengthAdjust="spacingAndGlyphs" fill="#231f20">1400</text>
<line x1="43.1" y1="235" x2="46.3" y2="235" stroke="#1a1a1a" stroke-width="1"/>
<text x="22.5" y="237.5" font-size="8.6" textLength="17.9" lengthAdjust="spacingAndGlyphs" fill="#231f20">1200</text>
<line x1="43.1" y1="251.25" x2="46.3" y2="251.25" stroke="#1a1a1a" stroke-width="1"/>
<text x="22.5" y="253.75" font-size="8.6" textLength="17.9" lengthAdjust="spacingAndGlyphs" fill="#231f20">1000</text>
<line x1="43.1" y1="267" x2="46.3" y2="267" stroke="#1a1a1a" stroke-width="1"/>
<text x="27" y="269.5" font-size="8.6" textLength="13.4" lengthAdjust="spacingAndGlyphs" fill="#231f20">800</text>
<line x1="43.1" y1="283" x2="46.3" y2="283" stroke="#1a1a1a" stroke-width="1"/>
<text x="27" y="285.5" font-size="8.6" textLength="13.4" lengthAdjust="spacingAndGlyphs" fill="#231f20">600</text>
<line x1="43.1" y1="298.75" x2="46.3" y2="298.75" stroke="#1a1a1a" stroke-width="1"/>
<text x="27" y="301.25" font-size="8.6" textLength="13.4" lengthAdjust="spacingAndGlyphs" fill="#231f20">400</text>
<line x1="43.1" y1="314.5" x2="46.3" y2="314.5" stroke="#1a1a1a" stroke-width="1"/>
<text x="27" y="317" font-size="8.6" textLength="13.4" lengthAdjust="spacingAndGlyphs" fill="#231f20">200</text>
<line x1="43.1" y1="330.5" x2="46.3" y2="330.5" stroke="#1a1a1a" stroke-width="1"/>
<text x="35.8" y="333" font-size="8.6" textLength="4.6" lengthAdjust="spacingAndGlyphs" fill="#231f20">0</text>
<line x1="63.8" y1="333" x2="63.8" y2="336" stroke="#1a1a1a" stroke-width="1"/>
<line x1="93.4" y1="333" x2="93.4" y2="336" stroke="#1a1a1a" stroke-width="1"/>
<line x1="122.7" y1="333" x2="122.7" y2="336" stroke="#1a1a1a" stroke-width="1"/>
<line x1="152.2" y1="333" x2="152.2" y2="336" stroke="#1a1a1a" stroke-width="1"/>
<path d="M52.8 320.2V317.6H74.2V320.2" fill="none" stroke="#2a2a2a" stroke-width="0.9"/>
<text x="52.65" y="315" font-size="7.9" textLength="21.7" lengthAdjust="spacingAndGlyphs" fill="#231f20">P=0.10</text>
<path d="M82 239.6V237H103V239.6" fill="none" stroke="#2a2a2a" stroke-width="0.9"/>
<text x="81.85" y="234.4" font-size="7.9" textLength="21.3" lengthAdjust="spacingAndGlyphs" fill="#231f20">P=0.02</text>
<path d="M111.8 225V222.4H133.6V225" fill="none" stroke="#2a2a2a" stroke-width="0.9"/>
<text x="111.65" y="220" font-size="7.9" textLength="22.1" lengthAdjust="spacingAndGlyphs" fill="#231f20">P=0.08</text>
<path d="M140.8 261.6V259H162V261.6" fill="none" stroke="#2a2a2a" stroke-width="0.9"/>
<text x="140.65" y="257.6" font-size="7.9" textLength="21.5" lengthAdjust="spacingAndGlyphs" fill="#231f20">P=0.24</text>
<text x="43" y="345.4" font-size="7.6" textLength="29.6" lengthAdjust="spacingAndGlyphs" fill="#231f20">Pre-FDCT</text>
<text x="78.8" y="345.4" font-size="7.6" textLength="27.8" lengthAdjust="spacingAndGlyphs" fill="#231f20">6 months</text>
<text x="112.8" y="345.4" font-size="7.6" textLength="17.8" lengthAdjust="spacingAndGlyphs" fill="#231f20">1 year</text>
<text x="137.2" y="345.4" font-size="7.6" textLength="29.4" lengthAdjust="spacingAndGlyphs" fill="#231f20">2–5 years</text>
<text x="100" y="358.4" font-size="9.6" textLength="14.4" lengthAdjust="spacingAndGlyphs" fill="#231f20" stroke-width="0">Visit</text>
<text transform="translate(16.8 274.4) rotate(-90)" x="-49.4" y="0" font-size="9.7" textLength="98.8" lengthAdjust="spacingAndGlyphs" fill="#231f20">CD4 CD45RA cells (×10<tspan dy="-3.3" font-size="6.4">6</tspan><tspan dy="3.3">/L)</tspan></text>
<text x="46.2" y="370.6" font-size="8.3" textLength="53.8" lengthAdjust="spacingAndGlyphs" fill="#231f20">Treatment type</text>
<rect x="46.2" y="376.7" width="5" height="5" fill="#155088"/>
<text x="54.2" y="381.7" font-size="8.4" textLength="14" lengthAdjust="spacingAndGlyphs" fill="#231f20">HCT</text>
<rect x="95" y="376.7" width="5" height="5" fill="#c9122f"/>
<text x="103" y="381.7" font-size="8.4" textLength="29.4" lengthAdjust="spacingAndGlyphs" fill="#231f20">ERT-HCT</text>
<rect x="46.2" y="388.3" width="5" height="5" fill="#3bb54a"/>
<text x="54.2" y="393.3" font-size="8.4" textLength="36.4" lengthAdjust="spacingAndGlyphs" fill="#231f20">ERT-GT(Rv)</text>
<rect x="95" y="388.3" width="5" height="5" fill="#5c2573"/>
<text x="103" y="393.3" font-size="8.4" textLength="36.3" lengthAdjust="spacingAndGlyphs" fill="#231f20">ERT-GT(Lv)</text>
<line x1="218.2" y1="281.7" x2="340.5" y2="281.7" stroke="#d43a57" stroke-width="1"/>
<line x1="227.5" y1="327" x2="227.5" y2="331.4" stroke="#2a2a2a" stroke-width="1"/>
<line x1="225.7" y1="327" x2="229.3" y2="327" stroke="#222" stroke-width="1"/>
<line x1="225.7" y1="331.4" x2="229.3" y2="331.4" stroke="#222" stroke-width="1"/>
<rect x="225" y="327.5" width="4.8" height="3.75" fill="#155088" stroke="#0f3f70" stroke-width="0.35"/>
<line x1="225.3" y1="330" x2="229.5" y2="330" stroke="#111" stroke-width="1"/>
<line x1="232.5" y1="290.6" x2="232.5" y2="331.25" stroke="#2a2a2a" stroke-width="1"/>
<line x1="230.7" y1="290.6" x2="234.3" y2="290.6" stroke="#222" stroke-width="1"/>
<line x1="230.7" y1="331.25" x2="234.3" y2="331.25" stroke="#222" stroke-width="1"/>
<rect x="230.4" y="310" width="4.8" height="16.25" fill="#c9122f" stroke="#a80f29" stroke-width="0.35"/>
<line x1="230.7" y1="319" x2="234.9" y2="319" stroke="#111" stroke-width="1"/>
<line x1="238.5" y1="223.4" x2="238.5" y2="325" stroke="#2a2a2a" stroke-width="1"/>
<line x1="236.7" y1="223.4" x2="240.3" y2="223.4" stroke="#222" stroke-width="1"/>
<line x1="236.7" y1="325" x2="240.3" y2="325" stroke="#222" stroke-width="1"/>
<rect x="235.8" y="277" width="4.8" height="46.75" fill="#3bb54a" stroke="#2f9a3d" stroke-width="0.35"/>
<line x1="236.1" y1="310" x2="240.3" y2="310" stroke="#111" stroke-width="1"/>
<line x1="243.5" y1="292.4" x2="243.5" y2="321.75" stroke="#2a2a2a" stroke-width="1"/>
<line x1="241.7" y1="292.4" x2="245.3" y2="292.4" stroke="#222" stroke-width="1"/>
<line x1="241.7" y1="321.75" x2="245.3" y2="321.75" stroke="#222" stroke-width="1"/>
<rect x="241.2" y="301" width="4.8" height="14" fill="#5c2573" stroke="#471866" stroke-width="0.35"/>
<line x1="241.5" y1="309.4" x2="245.7" y2="309.4" stroke="#111" stroke-width="1"/>
<line x1="256.5" y1="281.7" x2="256.5" y2="331.25" stroke="#2a2a2a" stroke-width="1"/>
<line x1="254.7" y1="281.7" x2="258.3" y2="281.7" stroke="#222" stroke-width="1"/>
<line x1="254.7" y1="331.25" x2="258.3" y2="331.25" stroke="#222" stroke-width="1"/>
<rect x="254.1" y="305" width="4.8" height="23.75" fill="#155088" stroke="#0f3f70" stroke-width="0.35"/>
<line x1="254.4" y1="327.2" x2="258.6" y2="327.2" stroke="#111" stroke-width="1"/>
<line x1="261.5" y1="285.8" x2="261.5" y2="331.25" stroke="#2a2a2a" stroke-width="1"/>
<line x1="259.7" y1="285.8" x2="263.3" y2="285.8" stroke="#222" stroke-width="1"/>
<line x1="259.7" y1="331.25" x2="263.3" y2="331.25" stroke="#222" stroke-width="1"/>
<rect x="259.5" y="302.5" width="4.8" height="25" fill="#c9122f" stroke="#a80f29" stroke-width="0.35"/>
<line x1="259.8" y1="317.5" x2="264" y2="317.5" stroke="#111" stroke-width="1"/>
<line x1="267.5" y1="322" x2="267.5" y2="331.25" stroke="#2a2a2a" stroke-width="1"/>
<line x1="265.7" y1="322" x2="269.3" y2="322" stroke="#222" stroke-width="1"/>
<line x1="265.7" y1="331.25" x2="269.3" y2="331.25" stroke="#222" stroke-width="1"/>
<rect x="264.9" y="322" width="4.8" height="8.75" fill="#3bb54a" stroke="#2f9a3d" stroke-width="0.35"/>
<line x1="265.2" y1="327" x2="269.4" y2="327" stroke="#111" stroke-width="1"/>
<line x1="272.5" y1="307.5" x2="272.5" y2="327" stroke="#2a2a2a" stroke-width="1"/>
<line x1="270.7" y1="307.5" x2="274.3" y2="307.5" stroke="#222" stroke-width="1"/>
<line x1="270.7" y1="327" x2="274.3" y2="327" stroke="#222" stroke-width="1"/>
<rect x="270.3" y="313" width="4.8" height="7.5" fill="#5c2573" stroke="#471866" stroke-width="0.35"/>
<line x1="270.6" y1="315" x2="274.8" y2="315" stroke="#111" stroke-width="1"/>
<line x1="285.5" y1="288.7" x2="285.5" y2="330.5" stroke="#2a2a2a" stroke-width="1"/>
<line x1="283.7" y1="288.7" x2="287.3" y2="288.7" stroke="#222" stroke-width="1"/>
<line x1="283.7" y1="330.5" x2="287.3" y2="330.5" stroke="#222" stroke-width="1"/>
<rect x="283.5" y="313" width="4.8" height="17" fill="#155088" stroke="#0f3f70" stroke-width="0.35"/>
<line x1="283.8" y1="325.5" x2="288" y2="325.5" stroke="#111" stroke-width="1"/>
<line x1="291.5" y1="223.4" x2="291.5" y2="328.75" stroke="#2a2a2a" stroke-width="1"/>
<line x1="289.7" y1="223.4" x2="293.3" y2="223.4" stroke="#222" stroke-width="1"/>
<line x1="289.7" y1="328.75" x2="293.3" y2="328.75" stroke="#222" stroke-width="1"/>
<rect x="288.9" y="278" width="4.8" height="45" fill="#c9122f" stroke="#a80f29" stroke-width="0.35"/>
<line x1="289.2" y1="315" x2="293.4" y2="315" stroke="#111" stroke-width="1"/>
<line x1="296.5" y1="313.4" x2="296.5" y2="330" stroke="#2a2a2a" stroke-width="1"/>
<line x1="294.7" y1="313.4" x2="298.3" y2="313.4" stroke="#222" stroke-width="1"/>
<line x1="294.7" y1="330" x2="298.3" y2="330" stroke="#222" stroke-width="1"/>
<rect x="294.3" y="316.6" width="4.8" height="9.65" fill="#3bb54a" stroke="#2f9a3d" stroke-width="0.35"/>
<line x1="294.6" y1="319.5" x2="298.8" y2="319.5" stroke="#111" stroke-width="1"/>
<line x1="302.5" y1="283.2" x2="302.5" y2="326.2" stroke="#2a2a2a" stroke-width="1"/>
<line x1="300.7" y1="283.2" x2="304.3" y2="283.2" stroke="#222" stroke-width="1"/>
<line x1="300.7" y1="326.2" x2="304.3" y2="326.2" stroke="#222" stroke-width="1"/>
<rect x="299.7" y="303" width="4.8" height="16.5" fill="#5c2573" stroke="#471866" stroke-width="0.35"/>
<line x1="300" y1="312.8" x2="304.2" y2="312.8" stroke="#111" stroke-width="1"/>
<line x1="315.5" y1="274.5" x2="315.5" y2="328.5" stroke="#2a2a2a" stroke-width="1"/>
<line x1="313.7" y1="274.5" x2="317.3" y2="274.5" stroke="#222" stroke-width="1"/>
<line x1="313.7" y1="328.5" x2="317.3" y2="328.5" stroke="#222" stroke-width="1"/>
<rect x="312.8" y="301.2" width="4.8" height="27.05" fill="#155088" stroke="#0f3f70" stroke-width="0.35"/>
<line x1="313.1" y1="320" x2="317.3" y2="320" stroke="#111" stroke-width="1"/>
<line x1="320.5" y1="272.5" x2="320.5" y2="330" stroke="#2a2a2a" stroke-width="1"/>
<line x1="318.7" y1="272.5" x2="322.3" y2="272.5" stroke="#222" stroke-width="1"/>
<line x1="318.7" y1="330" x2="322.3" y2="330" stroke="#222" stroke-width="1"/>
<rect x="318.2" y="283" width="4.8" height="45" fill="#c9122f" stroke="#a80f29" stroke-width="0.35"/>
<line x1="318.5" y1="299.25" x2="322.7" y2="299.25" stroke="#111" stroke-width="1"/>
<line x1="326.5" y1="299.25" x2="326.5" y2="329" stroke="#2a2a2a" stroke-width="1"/>
<line x1="324.7" y1="299.25" x2="328.3" y2="299.25" stroke="#222" stroke-width="1"/>
<line x1="324.7" y1="329" x2="328.3" y2="329" stroke="#222" stroke-width="1"/>
<rect x="323.6" y="302.5" width="4.8" height="26.25" fill="#3bb54a" stroke="#2f9a3d" stroke-width="0.35"/>
<line x1="323.9" y1="323.25" x2="328.1" y2="323.25" stroke="#111" stroke-width="1"/>
<line x1="331.5" y1="299.25" x2="331.5" y2="319.25" stroke="#2a2a2a" stroke-width="1"/>
<line x1="329.7" y1="299.25" x2="333.3" y2="299.25" stroke="#222" stroke-width="1"/>
<line x1="329.7" y1="319.25" x2="333.3" y2="319.25" stroke="#222" stroke-width="1"/>
<rect x="329" y="302" width="4.8" height="7.25" fill="#5c2573" stroke="#471866" stroke-width="0.35"/>
<line x1="329.3" y1="305" x2="333.5" y2="305" stroke="#111" stroke-width="1"/>
<line x1="218.2" y1="210.6" x2="218.2" y2="334.1" stroke="#1a1a1a" stroke-width="1.2"/>
<line x1="217.6" y1="333.5" x2="340.5" y2="333.5" stroke="#1a1a1a" stroke-width="1.2"/>
<line x1="215" y1="214.8" x2="218.2" y2="214.8" stroke="#1a1a1a" stroke-width="1"/>
<text x="194.4" y="217.3" font-size="8.6" textLength="17.9" lengthAdjust="spacingAndGlyphs" fill="#231f20">1600</text>
<line x1="215" y1="229.4" x2="218.2" y2="229.4" stroke="#1a1a1a" stroke-width="1"/>
<text x="194.4" y="231.9" font-size="8.6" textLength="17.9" lengthAdjust="spacingAndGlyphs" fill="#231f20">1400</text>
<line x1="215" y1="244" x2="218.2" y2="244" stroke="#1a1a1a" stroke-width="1"/>
<text x="194.4" y="246.5" font-size="8.6" textLength="17.9" lengthAdjust="spacingAndGlyphs" fill="#231f20">1200</text>
<line x1="215" y1="258.4" x2="218.2" y2="258.4" stroke="#1a1a1a" stroke-width="1"/>
<text x="194.4" y="260.9" font-size="8.6" textLength="17.9" lengthAdjust="spacingAndGlyphs" fill="#231f20">1000</text>
<line x1="215" y1="273" x2="218.2" y2="273" stroke="#1a1a1a" stroke-width="1"/>
<text x="198.9" y="275.5" font-size="8.6" textLength="13.4" lengthAdjust="spacingAndGlyphs" fill="#231f20">800</text>
<line x1="215" y1="287.4" x2="218.2" y2="287.4" stroke="#1a1a1a" stroke-width="1"/>
<text x="198.9" y="289.9" font-size="8.6" textLength="13.4" lengthAdjust="spacingAndGlyphs" fill="#231f20">600</text>
<line x1="215" y1="302" x2="218.2" y2="302" stroke="#1a1a1a" stroke-width="1"/>
<text x="198.9" y="304.5" font-size="8.6" textLength="13.4" lengthAdjust="spacingAndGlyphs" fill="#231f20">400</text>
<line x1="215" y1="316.6" x2="218.2" y2="316.6" stroke="#1a1a1a" stroke-width="1"/>
<text x="198.9" y="319.1" font-size="8.6" textLength="13.4" lengthAdjust="spacingAndGlyphs" fill="#231f20">200</text>
<line x1="215" y1="331" x2="218.2" y2="331" stroke="#1a1a1a" stroke-width="1"/>
<text x="207.7" y="333.5" font-size="8.6" textLength="4.6" lengthAdjust="spacingAndGlyphs" fill="#231f20">0</text>
<line x1="235.5" y1="333.5" x2="235.5" y2="336.5" stroke="#1a1a1a" stroke-width="1"/>
<line x1="264.6" y1="333.5" x2="264.6" y2="336.5" stroke="#1a1a1a" stroke-width="1"/>
<line x1="294" y1="333.5" x2="294" y2="336.5" stroke="#1a1a1a" stroke-width="1"/>
<line x1="323.3" y1="333.5" x2="323.3" y2="336.5" stroke="#1a1a1a" stroke-width="1"/>
<path d="M224.8 221.6V219H245.2V221.6" fill="none" stroke="#2a2a2a" stroke-width="0.9"/>
<text x="224.65" y="216" font-size="7.9" textLength="20.7" lengthAdjust="spacingAndGlyphs" fill="#231f20">P&lt;0.01</text>
<path d="M253.8 279V276.4H274.2V279" fill="none" stroke="#2a2a2a" stroke-width="0.9"/>
<text x="253.65" y="273.4" font-size="7.9" textLength="20.7" lengthAdjust="spacingAndGlyphs" fill="#231f20">P=0.12</text>
<path d="M282.8 221.6V219H303.6V221.6" fill="none" stroke="#2a2a2a" stroke-width="0.9"/>
<text x="282.65" y="216" font-size="7.9" textLength="21.1" lengthAdjust="spacingAndGlyphs" fill="#231f20">P=0.06</text>
<path d="M312.9 268.8V266.2H333.9V268.8" fill="none" stroke="#2a2a2a" stroke-width="0.9"/>
<text x="312.75" y="264.5" font-size="7.9" textLength="21.3" lengthAdjust="spacingAndGlyphs" fill="#231f20">P=0.08</text>
<text x="215" y="345.6" font-size="7.6" textLength="29.4" lengthAdjust="spacingAndGlyphs" fill="#231f20">Pre-FDCT</text>
<text x="250.2" y="345.6" font-size="7.6" textLength="28.6" lengthAdjust="spacingAndGlyphs" fill="#231f20">6 months</text>
<text x="284.4" y="345.6" font-size="7.6" textLength="17.8" lengthAdjust="spacingAndGlyphs" fill="#231f20">1 year</text>
<text x="309" y="345.6" font-size="7.6" textLength="29.2" lengthAdjust="spacingAndGlyphs" fill="#231f20">2–5 years</text>
<text x="271.8" y="358.3" font-size="9.6" textLength="14.2" lengthAdjust="spacingAndGlyphs" fill="#231f20" stroke-width="0">Visit</text>
<text transform="translate(190.6 272.5) rotate(-90)" x="-25.5" y="0" font-size="9.7" textLength="51" lengthAdjust="spacingAndGlyphs" fill="#231f20">B cells (×10<tspan dy="-3.3" font-size="6.4">6</tspan><tspan dy="3.3">/L)</tspan></text>
<text x="216.2" y="370.6" font-size="8.3" textLength="53.8" lengthAdjust="spacingAndGlyphs" fill="#231f20">Treatment type</text>
<rect x="216.2" y="376.7" width="5" height="5" fill="#155088"/>
<text x="224.2" y="381.7" font-size="8.4" textLength="14" lengthAdjust="spacingAndGlyphs" fill="#231f20">HCT</text>
<rect x="265" y="376.7" width="5" height="5" fill="#c9122f"/>
<text x="273" y="381.7" font-size="8.4" textLength="29.4" lengthAdjust="spacingAndGlyphs" fill="#231f20">ERT-HCT</text>
<rect x="216.2" y="388.3" width="5" height="5" fill="#3bb54a"/>
<text x="224.2" y="393.3" font-size="8.4" textLength="36.4" lengthAdjust="spacingAndGlyphs" fill="#231f20">ERT-GT(Rv)</text>
<rect x="265" y="388.3" width="5" height="5" fill="#5c2573"/>
<text x="273" y="393.3" font-size="8.4" textLength="36.3" lengthAdjust="spacingAndGlyphs" fill="#231f20">ERT-GT(Lv)</text>
<line x1="389.4" y1="313.4" x2="508" y2="313.4" stroke="#d43a57" stroke-width="1"/>
<line x1="398.5" y1="316.5" x2="398.5" y2="329.4" stroke="#2a2a2a" stroke-width="1"/>
<line x1="396.7" y1="316.5" x2="400.3" y2="316.5" stroke="#222" stroke-width="1"/>
<line x1="396.7" y1="329.4" x2="400.3" y2="329.4" stroke="#222" stroke-width="1"/>
<rect x="396.5" y="322.8" width="4.8" height="4.9" fill="#155088" stroke="#0f3f70" stroke-width="0.35"/>
<line x1="396.8" y1="325.6" x2="401" y2="325.6" stroke="#111" stroke-width="1"/>
<line x1="404.5" y1="302.4" x2="404.5" y2="329.8" stroke="#2a2a2a" stroke-width="1"/>
<line x1="402.7" y1="302.4" x2="406.3" y2="302.4" stroke="#222" stroke-width="1"/>
<line x1="402.7" y1="329.8" x2="406.3" y2="329.8" stroke="#222" stroke-width="1"/>
<rect x="401.9" y="313.3" width="4.8" height="12.7" fill="#c9122f" stroke="#a80f29" stroke-width="0.35"/>
<line x1="402.2" y1="319" x2="406.4" y2="319" stroke="#111" stroke-width="1"/>
<line x1="409.5" y1="317" x2="409.5" y2="327.5" stroke="#2a2a2a" stroke-width="1"/>
<line x1="407.7" y1="317" x2="411.3" y2="317" stroke="#222" stroke-width="1"/>
<line x1="407.7" y1="327.5" x2="411.3" y2="327.5" stroke="#222" stroke-width="1"/>
<rect x="407.3" y="317.2" width="4.8" height="6.5" fill="#3bb54a" stroke="#2f9a3d" stroke-width="0.35"/>
<line x1="407.6" y1="321.1" x2="411.8" y2="321.1" stroke="#111" stroke-width="1"/>
<line x1="415.5" y1="291.4" x2="415.5" y2="327.5" stroke="#2a2a2a" stroke-width="1"/>
<line x1="413.7" y1="291.4" x2="417.3" y2="291.4" stroke="#222" stroke-width="1"/>
<line x1="413.7" y1="327.5" x2="417.3" y2="327.5" stroke="#222" stroke-width="1"/>
<rect x="412.7" y="309" width="4.8" height="12" fill="#5c2573" stroke="#471866" stroke-width="0.35"/>
<line x1="413" y1="315" x2="417.2" y2="315" stroke="#111" stroke-width="1"/>
<line x1="428.5" y1="298" x2="428.5" y2="329.4" stroke="#2a2a2a" stroke-width="1"/>
<line x1="426.7" y1="298" x2="430.3" y2="298" stroke="#222" stroke-width="1"/>
<line x1="426.7" y1="329.4" x2="430.3" y2="329.4" stroke="#222" stroke-width="1"/>
<rect x="425.8" y="309.6" width="4.8" height="16" fill="#155088" stroke="#0f3f70" stroke-width="0.35"/>
<line x1="426.1" y1="316.4" x2="430.3" y2="316.4" stroke="#111" stroke-width="1"/>
<line x1="433.5" y1="226" x2="433.5" y2="329.4" stroke="#2a2a2a" stroke-width="1"/>
<line x1="431.7" y1="226" x2="435.3" y2="226" stroke="#222" stroke-width="1"/>
<line x1="431.7" y1="329.4" x2="435.3" y2="329.4" stroke="#222" stroke-width="1"/>
<rect x="431.2" y="278" width="4.8" height="45.2" fill="#c9122f" stroke="#a80f29" stroke-width="0.35"/>
<line x1="431.5" y1="314.6" x2="435.7" y2="314.6" stroke="#111" stroke-width="1"/>
<line x1="439.5" y1="324.4" x2="439.5" y2="329.4" stroke="#2a2a2a" stroke-width="1"/>
<line x1="437.7" y1="324.4" x2="441.3" y2="324.4" stroke="#222" stroke-width="1"/>
<line x1="437.7" y1="329.4" x2="441.3" y2="329.4" stroke="#222" stroke-width="1"/>
<rect x="436.6" y="324.4" width="4.8" height="4.6" fill="#3bb54a" stroke="#2f9a3d" stroke-width="0.35"/>
<line x1="436.9" y1="326.8" x2="441.1" y2="326.8" stroke="#111" stroke-width="1"/>
<line x1="444.5" y1="278" x2="444.5" y2="327.3" stroke="#2a2a2a" stroke-width="1"/>
<line x1="442.7" y1="278" x2="446.3" y2="278" stroke="#222" stroke-width="1"/>
<line x1="442.7" y1="327.3" x2="446.3" y2="327.3" stroke="#222" stroke-width="1"/>
<rect x="442" y="295" width="4.8" height="29" fill="#5c2573" stroke="#471866" stroke-width="0.35"/>
<line x1="442.3" y1="311" x2="446.5" y2="311" stroke="#111" stroke-width="1"/>
<line x1="457.5" y1="300.6" x2="457.5" y2="329.4" stroke="#2a2a2a" stroke-width="1"/>
<line x1="455.7" y1="300.6" x2="459.3" y2="300.6" stroke="#222" stroke-width="1"/>
<line x1="455.7" y1="329.4" x2="459.3" y2="329.4" stroke="#222" stroke-width="1"/>
<rect x="455.2" y="315" width="4.8" height="10" fill="#155088" stroke="#0f3f70" stroke-width="0.35"/>
<line x1="455.5" y1="320.4" x2="459.7" y2="320.4" stroke="#111" stroke-width="1"/>
<line x1="462.5" y1="279.6" x2="462.5" y2="329.4" stroke="#2a2a2a" stroke-width="1"/>
<line x1="460.7" y1="279.6" x2="464.3" y2="279.6" stroke="#222" stroke-width="1"/>
<line x1="460.7" y1="329.4" x2="464.3" y2="329.4" stroke="#222" stroke-width="1"/>
<rect x="460.6" y="295" width="4.8" height="30.4" fill="#c9122f" stroke="#a80f29" stroke-width="0.35"/>
<line x1="460.9" y1="313.4" x2="465.1" y2="313.4" stroke="#111" stroke-width="1"/>
<line x1="468.5" y1="318.6" x2="468.5" y2="329.4" stroke="#2a2a2a" stroke-width="1"/>
<line x1="466.7" y1="318.6" x2="470.3" y2="318.6" stroke="#222" stroke-width="1"/>
<line x1="466.7" y1="329.4" x2="470.3" y2="329.4" stroke="#222" stroke-width="1"/>
<rect x="466" y="321.2" width="4.8" height="6.3" fill="#3bb54a" stroke="#2f9a3d" stroke-width="0.35"/>
<line x1="466.3" y1="325.3" x2="470.5" y2="325.3" stroke="#111" stroke-width="1"/>
<line x1="473.5" y1="306.3" x2="473.5" y2="326.2" stroke="#2a2a2a" stroke-width="1"/>
<line x1="471.7" y1="306.3" x2="475.3" y2="306.3" stroke="#222" stroke-width="1"/>
<line x1="471.7" y1="326.2" x2="475.3" y2="326.2" stroke="#222" stroke-width="1"/>
<rect x="471.4" y="306.3" width="4.8" height="16.2" fill="#5c2573" stroke="#471866" stroke-width="0.35"/>
<line x1="471.7" y1="321.8" x2="475.9" y2="321.8" stroke="#111" stroke-width="1"/>
<line x1="487.5" y1="283" x2="487.5" y2="329.4" stroke="#2a2a2a" stroke-width="1"/>
<line x1="485.7" y1="283" x2="489.3" y2="283" stroke="#222" stroke-width="1"/>
<line x1="485.7" y1="329.4" x2="489.3" y2="329.4" stroke="#222" stroke-width="1"/>
<rect x="484.6" y="303.1" width="4.8" height="20.4" fill="#155088" stroke="#0f3f70" stroke-width="0.35"/>
<line x1="484.9" y1="316.6" x2="489.1" y2="316.6" stroke="#111" stroke-width="1"/>
<line x1="492.5" y1="282" x2="492.5" y2="329.4" stroke="#2a2a2a" stroke-width="1"/>
<line x1="490.7" y1="282" x2="494.3" y2="282" stroke="#222" stroke-width="1"/>
<line x1="490.7" y1="329.4" x2="494.3" y2="329.4" stroke="#222" stroke-width="1"/>
<rect x="490" y="299" width="4.8" height="25.7" fill="#c9122f" stroke="#a80f29" stroke-width="0.35"/>
<line x1="490.3" y1="319.4" x2="494.5" y2="319.4" stroke="#111" stroke-width="1"/>
<line x1="497.5" y1="314.6" x2="497.5" y2="329.4" stroke="#2a2a2a" stroke-width="1"/>
<line x1="495.7" y1="314.6" x2="499.3" y2="314.6" stroke="#222" stroke-width="1"/>
<line x1="495.7" y1="329.4" x2="499.3" y2="329.4" stroke="#222" stroke-width="1"/>
<rect x="495.4" y="321.3" width="4.8" height="6.5" fill="#3bb54a" stroke="#2f9a3d" stroke-width="0.35"/>
<line x1="495.7" y1="324" x2="499.9" y2="324" stroke="#111" stroke-width="1"/>
<line x1="503.5" y1="316" x2="503.5" y2="322.5" stroke="#2a2a2a" stroke-width="1"/>
<line x1="501.7" y1="316" x2="505.3" y2="316" stroke="#222" stroke-width="1"/>
<line x1="501.7" y1="322.5" x2="505.3" y2="322.5" stroke="#222" stroke-width="1"/>
<rect x="500.8" y="316" width="4.8" height="4.6" fill="#5c2573" stroke="#471866" stroke-width="0.35"/>
<line x1="501.1" y1="318.6" x2="505.3" y2="318.6" stroke="#111" stroke-width="1"/>
<line x1="389.4" y1="210" x2="389.4" y2="333.2" stroke="#1a1a1a" stroke-width="1.2"/>
<line x1="388.8" y1="332.6" x2="511.8" y2="332.6" stroke="#1a1a1a" stroke-width="1.2"/>
<line x1="386.2" y1="213.4" x2="389.4" y2="213.4" stroke="#1a1a1a" stroke-width="1"/>
<text x="365.6" y="215.9" font-size="8.6" textLength="17.9" lengthAdjust="spacingAndGlyphs" fill="#231f20">1200</text>
<line x1="386.2" y1="233" x2="389.4" y2="233" stroke="#1a1a1a" stroke-width="1"/>
<text x="365.6" y="235.5" font-size="8.6" textLength="17.9" lengthAdjust="spacingAndGlyphs" fill="#231f20">1000</text>
<line x1="386.2" y1="252.6" x2="389.4" y2="252.6" stroke="#1a1a1a" stroke-width="1"/>
<text x="370.1" y="255.1" font-size="8.6" textLength="13.4" lengthAdjust="spacingAndGlyphs" fill="#231f20">800</text>
<line x1="386.2" y1="272" x2="389.4" y2="272" stroke="#1a1a1a" stroke-width="1"/>
<text x="370.1" y="274.5" font-size="8.6" textLength="13.4" lengthAdjust="spacingAndGlyphs" fill="#231f20">600</text>
<line x1="386.2" y1="291.4" x2="389.4" y2="291.4" stroke="#1a1a1a" stroke-width="1"/>
<text x="370.1" y="293.9" font-size="8.6" textLength="13.4" lengthAdjust="spacingAndGlyphs" fill="#231f20">400</text>
<line x1="386.2" y1="310.6" x2="389.4" y2="310.6" stroke="#1a1a1a" stroke-width="1"/>
<text x="370.1" y="313.1" font-size="8.6" textLength="13.4" lengthAdjust="spacingAndGlyphs" fill="#231f20">200</text>
<line x1="386.2" y1="330.2" x2="389.4" y2="330.2" stroke="#1a1a1a" stroke-width="1"/>
<text x="378.9" y="332.7" font-size="8.6" textLength="4.6" lengthAdjust="spacingAndGlyphs" fill="#231f20">0</text>
<line x1="407" y1="332.6" x2="407" y2="335.6" stroke="#1a1a1a" stroke-width="1"/>
<line x1="436.3" y1="332.6" x2="436.3" y2="335.6" stroke="#1a1a1a" stroke-width="1"/>
<line x1="465.7" y1="332.6" x2="465.7" y2="335.6" stroke="#1a1a1a" stroke-width="1"/>
<line x1="495.1" y1="332.6" x2="495.1" y2="335.6" stroke="#1a1a1a" stroke-width="1"/>
<path d="M396.4 289.6V287H417V289.6" fill="none" stroke="#2a2a2a" stroke-width="0.9"/>
<text x="396.25" y="283.6" font-size="7.9" textLength="20.9" lengthAdjust="spacingAndGlyphs" fill="#231f20">P&lt;0.01</text>
<path d="M424.8 224.6V222H446V224.6" fill="none" stroke="#2a2a2a" stroke-width="0.9"/>
<text x="424.65" y="218.6" font-size="7.9" textLength="21.5" lengthAdjust="spacingAndGlyphs" fill="#231f20">P=0.05</text>
<path d="M454.8 277.6V275H475.2V277.6" fill="none" stroke="#2a2a2a" stroke-width="0.9"/>
<text x="454.65" y="271.6" font-size="7.9" textLength="20.7" lengthAdjust="spacingAndGlyphs" fill="#231f20">P=0.12</text>
<path d="M484.8 277.6V275H505.2V277.6" fill="none" stroke="#2a2a2a" stroke-width="0.9"/>
<text x="484.65" y="271.6" font-size="7.9" textLength="20.7" lengthAdjust="spacingAndGlyphs" fill="#231f20">P=0.25</text>
<text x="386.2" y="344.5" font-size="7.6" textLength="29.4" lengthAdjust="spacingAndGlyphs" fill="#231f20">Pre-FDCT</text>
<text x="422" y="344.5" font-size="7.6" textLength="28.2" lengthAdjust="spacingAndGlyphs" fill="#231f20">6 months</text>
<text x="455.6" y="344.5" font-size="7.6" textLength="18" lengthAdjust="spacingAndGlyphs" fill="#231f20">1 year</text>
<text x="480.6" y="344.5" font-size="7.6" textLength="29" lengthAdjust="spacingAndGlyphs" fill="#231f20">2–5 years</text>
<text x="443.4" y="357.6" font-size="9.6" textLength="14.4" lengthAdjust="spacingAndGlyphs" fill="#231f20" stroke-width="0">Visit</text>
<text transform="translate(361.6 271.5) rotate(-90)" x="-27.5" y="0" font-size="9.7" textLength="55" lengthAdjust="spacingAndGlyphs" fill="#231f20">NK cells (×10<tspan dy="-3.3" font-size="6.4">6</tspan><tspan dy="3.3">/L)</tspan></text>
<text x="388" y="370.6" font-size="8.3" textLength="53.8" lengthAdjust="spacingAndGlyphs" fill="#231f20">Treatment type</text>
<rect x="388" y="376.7" width="5" height="5" fill="#155088"/>
<text x="396" y="381.7" font-size="8.4" textLength="14" lengthAdjust="spacingAndGlyphs" fill="#231f20">HCT</text>
<rect x="436.8" y="376.7" width="5" height="5" fill="#c9122f"/>
<text x="444.8" y="381.7" font-size="8.4" textLength="29.4" lengthAdjust="spacingAndGlyphs" fill="#231f20">ERT-HCT</text>
<rect x="388" y="388.3" width="5" height="5" fill="#3bb54a"/>
<text x="396" y="393.3" font-size="8.4" textLength="36.4" lengthAdjust="spacingAndGlyphs" fill="#231f20">ERT-GT(Rv)</text>
<rect x="436.8" y="388.3" width="5" height="5" fill="#5c2573"/>
<text x="444.8" y="393.3" font-size="8.4" textLength="36.3" lengthAdjust="spacingAndGlyphs" fill="#231f20">ERT-GT(Lv)</text>
<line x1="46.3" y1="412.4" x2="46.3" y2="556" stroke="#1a1a1a" stroke-width="1"/>
<line x1="45.8" y1="555.5" x2="225.6" y2="555.5" stroke="#1a1a1a" stroke-width="1"/>
<line x1="43.1" y1="416.2" x2="46.3" y2="416.2" stroke="#1a1a1a" stroke-width="1"/>
<text x="21" y="418.7" font-size="8.6" textLength="19.6" lengthAdjust="spacingAndGlyphs" fill="#231f20">100%</text>
<line x1="43.1" y1="444.08" x2="46.3" y2="444.08" stroke="#1a1a1a" stroke-width="1"/>
<text x="25.4" y="446.58" font-size="8.6" textLength="15.2" lengthAdjust="spacingAndGlyphs" fill="#231f20">80%</text>
<line x1="43.1" y1="471.96" x2="46.3" y2="471.96" stroke="#1a1a1a" stroke-width="1"/>
<text x="25.4" y="474.46" font-size="8.6" textLength="15.2" lengthAdjust="spacingAndGlyphs" fill="#231f20">60%</text>
<line x1="43.1" y1="499.84" x2="46.3" y2="499.84" stroke="#1a1a1a" stroke-width="1"/>
<text x="25.4" y="502.34" font-size="8.6" textLength="15.2" lengthAdjust="spacingAndGlyphs" fill="#231f20">40%</text>
<line x1="43.1" y1="527.72" x2="46.3" y2="527.72" stroke="#1a1a1a" stroke-width="1"/>
<text x="25.4" y="530.22" font-size="8.6" textLength="15.2" lengthAdjust="spacingAndGlyphs" fill="#231f20">20%</text>
<line x1="43.1" y1="555.6" x2="46.3" y2="555.6" stroke="#1a1a1a" stroke-width="1"/>
<text x="30" y="558.1" font-size="8.6" textLength="10.6" lengthAdjust="spacingAndGlyphs" fill="#231f20">0%</text>
<rect x="54.9" y="520" width="10.85" height="35.5" fill="#155088" stroke="#0f3f70" stroke-width="0.3"/>
<rect x="65.75" y="522" width="10.85" height="33.5" fill="#c9122f" stroke="#a80f29" stroke-width="0.3"/>
<rect x="76.6" y="538" width="10.85" height="17.5" fill="#3bb54a" stroke="#2f9a3d" stroke-width="0.3"/>
<rect x="87.45" y="536.8" width="10.85" height="18.7" fill="#5c2573" stroke="#471866" stroke-width="0.3"/>
<line x1="76.6" y1="555.5" x2="76.6" y2="558.3" stroke="#1a1a1a" stroke-width="0.9"/>
<rect x="113.95" y="491.8" width="10.85" height="63.7" fill="#155088" stroke="#0f3f70" stroke-width="0.3"/>
<rect x="124.8" y="471.3" width="10.85" height="84.2" fill="#c9122f" stroke="#a80f29" stroke-width="0.3"/>
<rect x="135.65" y="540" width="10.85" height="15.5" fill="#3bb54a" stroke="#2f9a3d" stroke-width="0.3"/>
<rect x="146.5" y="503.3" width="10.85" height="52.2" fill="#5c2573" stroke="#471866" stroke-width="0.3"/>
<line x1="135.65" y1="555.5" x2="135.65" y2="558.3" stroke="#1a1a1a" stroke-width="0.9"/>
<rect x="173" y="468.8" width="10.85" height="86.7" fill="#155088" stroke="#0f3f70" stroke-width="0.3"/>
<rect x="183.85" y="443.3" width="10.85" height="112.2" fill="#c9122f" stroke="#a80f29" stroke-width="0.3"/>
<rect x="194.7" y="509.3" width="10.85" height="46.2" fill="#3bb54a" stroke="#2f9a3d" stroke-width="0.3"/>
<rect x="205.55" y="451.8" width="10.85" height="103.7" fill="#5c2573" stroke="#471866" stroke-width="0.3"/>
<line x1="194.7" y1="555.5" x2="194.7" y2="558.3" stroke="#1a1a1a" stroke-width="0.9"/>
<path d="M54.9 510.1V507.5H97.9V510.1" fill="none" stroke="#2a2a2a" stroke-width="0.9"/>
<text x="63.9" y="503.8" font-size="8.2" textLength="25" lengthAdjust="spacingAndGlyphs" fill="#231f20">P=0.74</text>
<path d="M113.7 461.9V459.3H157.1V461.9" fill="none" stroke="#2a2a2a" stroke-width="0.9"/>
<text x="122.9" y="455.6" font-size="8.2" textLength="25" lengthAdjust="spacingAndGlyphs" fill="#231f20">P=0.08</text>
<path d="M172.9 433.4V430.8H216.4V433.4" fill="none" stroke="#2a2a2a" stroke-width="0.9"/>
<text x="182.15" y="427.5" font-size="8.2" textLength="25" lengthAdjust="spacingAndGlyphs" fill="#231f20">P=0.07</text>
<text x="60" y="568.3" font-size="8.6" textLength="33" lengthAdjust="spacingAndGlyphs" fill="#231f20">6 months</text>
<text x="125.2" y="568.3" font-size="8.6" textLength="21" lengthAdjust="spacingAndGlyphs" fill="#231f20">1 year</text>
<text x="178" y="568.3" font-size="8.6" textLength="33.1" lengthAdjust="spacingAndGlyphs" fill="#231f20">2–5 years</text>
<text x="129" y="582" font-size="9.6" textLength="13.8" lengthAdjust="spacingAndGlyphs" fill="#231f20" stroke-width="0">Visit</text>
<text transform="translate(14 484.2) rotate(-90)" x="-35.1" y="0" font-size="9.6" textLength="70.2" lengthAdjust="spacingAndGlyphs" fill="#231f20">% Off Ig replacement</text>
<text x="46.8" y="593" font-size="8.3" textLength="53.3" lengthAdjust="spacingAndGlyphs" fill="#231f20">Treatment type</text>
<rect x="46.8" y="599.5" width="5" height="5" fill="#155088"/>
<text x="54.6" y="604.5" font-size="8.4" textLength="14.2" lengthAdjust="spacingAndGlyphs" fill="#231f20">HCT</text>
<rect x="96.3" y="599.5" width="5" height="5" fill="#c9122f"/>
<text x="104.1" y="604.5" font-size="8.4" textLength="29.2" lengthAdjust="spacingAndGlyphs" fill="#231f20">ERT-HCT</text>
<rect x="46.8" y="610.5" width="5" height="5" fill="#3bb54a"/>
<text x="54.6" y="615.5" font-size="8.4" textLength="36.6" lengthAdjust="spacingAndGlyphs" fill="#231f20">ERT-GT(Rv)</text>
<rect x="96.3" y="610.5" width="5" height="5" fill="#5c2573"/>
<text x="104.1" y="615.5" font-size="8.4" textLength="36.6" lengthAdjust="spacingAndGlyphs" fill="#231f20">ERT-GT(Lv)</text>
<line x1="286.6" y1="412.4" x2="286.6" y2="520.6" stroke="#1a1a1a" stroke-width="1"/>
<line x1="286.1" y1="520.1" x2="511.3" y2="520.1" stroke="#1a1a1a" stroke-width="1"/>
<line x1="283.4" y1="418" x2="286.6" y2="418" stroke="#1a1a1a" stroke-width="1"/>
<text x="268" y="420.5" font-size="8.6" textLength="12.2" lengthAdjust="spacingAndGlyphs" fill="#231f20">100</text>
<line x1="283.4" y1="443.5" x2="286.6" y2="443.5" stroke="#1a1a1a" stroke-width="1"/>
<text x="271.9" y="446" font-size="8.6" textLength="8.3" lengthAdjust="spacingAndGlyphs" fill="#231f20">75</text>
<line x1="283.4" y1="469" x2="286.6" y2="469" stroke="#1a1a1a" stroke-width="1"/>
<text x="271.9" y="471.5" font-size="8.6" textLength="8.3" lengthAdjust="spacingAndGlyphs" fill="#231f20">50</text>
<line x1="283.4" y1="494.5" x2="286.6" y2="494.5" stroke="#1a1a1a" stroke-width="1"/>
<text x="271.9" y="497" font-size="8.6" textLength="8.3" lengthAdjust="spacingAndGlyphs" fill="#231f20">25</text>
<line x1="283.4" y1="520" x2="286.6" y2="520" stroke="#1a1a1a" stroke-width="1"/>
<text x="275.9" y="522.5" font-size="8.6" textLength="4.3" lengthAdjust="spacingAndGlyphs" fill="#231f20">0</text>
<rect x="290.5" y="418" width="7" height="87" fill="#155088"/>
<rect x="290.5" y="505" width="7" height="2" fill="#c9122f"/>
<rect x="290.5" y="507" width="7" height="13.1" fill="#3bb54a"/>
<line x1="294" y1="520.1" x2="294" y2="522.7" stroke="#1a1a1a" stroke-width="0.9"/>
<text transform="translate(297.8 530.4) rotate(-45)" x="-14.2" font-size="7.7" textLength="14.2" lengthAdjust="spacingAndGlyphs" fill="#231f20">HCT</text>
<rect x="302.4" y="418" width="7" height="51.3" fill="#155088"/>
<rect x="302.4" y="469.3" width="7" height="7" fill="#c9122f"/>
<rect x="302.4" y="476.3" width="7" height="43.8" fill="#3bb54a"/>
<line x1="305.9" y1="520.1" x2="305.9" y2="522.7" stroke="#1a1a1a" stroke-width="0.9"/>
<text transform="translate(309.7 530.4) rotate(-45)" x="-29.6" font-size="7.7" textLength="29.6" lengthAdjust="spacingAndGlyphs" fill="#231f20">ERT-HCT</text>
<rect x="314.3" y="418" width="7" height="34" fill="#155088"/>
<rect x="314.3" y="452" width="7" height="33.8" fill="#c9122f"/>
<rect x="314.3" y="485.8" width="7" height="34.3" fill="#3bb54a"/>
<line x1="317.8" y1="520.1" x2="317.8" y2="522.7" stroke="#1a1a1a" stroke-width="0.9"/>
<text transform="translate(321.6 530.4) rotate(-45)" x="-37.4" font-size="7.7" textLength="37.4" lengthAdjust="spacingAndGlyphs" fill="#231f20">ERT-GT(Rv)</text>
<rect x="326.2" y="418" width="7" height="10.3" fill="#155088"/>
<rect x="326.2" y="428.3" width="7" height="20.5" fill="#c9122f"/>
<rect x="326.2" y="448.8" width="7" height="71.3" fill="#3bb54a"/>
<line x1="329.7" y1="520.1" x2="329.7" y2="522.7" stroke="#1a1a1a" stroke-width="0.9"/>
<text transform="translate(333.5 530.4) rotate(-45)" x="-37" font-size="7.7" textLength="37" lengthAdjust="spacingAndGlyphs" fill="#231f20">ERT-GT(Lv)</text>
<rect x="349" y="418" width="7" height="11.5" fill="#155088"/>
<rect x="349" y="429.5" width="7" height="18.8" fill="#c9122f"/>
<rect x="349" y="448.3" width="7" height="71.8" fill="#3bb54a"/>
<line x1="352.5" y1="520.1" x2="352.5" y2="522.7" stroke="#1a1a1a" stroke-width="0.9"/>
<text transform="translate(356.3 530.4) rotate(-45)" x="-14.2" font-size="7.7" textLength="14.2" lengthAdjust="spacingAndGlyphs" fill="#231f20">HCT</text>
<rect x="360.9" y="418" width="7" height="7" fill="#155088"/>
<rect x="360.9" y="425" width="7" height="22" fill="#c9122f"/>
<rect x="360.9" y="447" width="7" height="73.1" fill="#3bb54a"/>
<line x1="364.4" y1="520.1" x2="364.4" y2="522.7" stroke="#1a1a1a" stroke-width="0.9"/>
<text transform="translate(368.2 530.4) rotate(-45)" x="-29.6" font-size="7.7" textLength="29.6" lengthAdjust="spacingAndGlyphs" fill="#231f20">ERT-HCT</text>
<rect x="372.8" y="418" width="7" height="68.3" fill="#155088"/>
<rect x="372.8" y="486.3" width="7" height="33.8" fill="#3bb54a"/>
<line x1="376.3" y1="520.1" x2="376.3" y2="522.7" stroke="#1a1a1a" stroke-width="0.9"/>
<text transform="translate(380.1 530.4) rotate(-45)" x="-37.4" font-size="7.7" textLength="37.4" lengthAdjust="spacingAndGlyphs" fill="#231f20">ERT-GT(Rv)</text>
<rect x="384.7" y="418" width="7" height="102.1" fill="#3bb54a"/>
<line x1="388.2" y1="520.1" x2="388.2" y2="522.7" stroke="#1a1a1a" stroke-width="0.9"/>
<text transform="translate(392 530.4) rotate(-45)" x="-37" font-size="7.7" textLength="37" lengthAdjust="spacingAndGlyphs" fill="#231f20">ERT-GT(Lv)</text>
<rect x="407.5" y="418" width="7" height="7.5" fill="#155088"/>
<rect x="407.5" y="425.5" width="7" height="11.5" fill="#c9122f"/>
<rect x="407.5" y="437" width="7" height="83.1" fill="#3bb54a"/>
<line x1="411" y1="520.1" x2="411" y2="522.7" stroke="#1a1a1a" stroke-width="0.9"/>
<text transform="translate(414.8 530.4) rotate(-45)" x="-14.2" font-size="7.7" textLength="14.2" lengthAdjust="spacingAndGlyphs" fill="#231f20">HCT</text>
<rect x="419.4" y="418" width="7" height="9" fill="#155088"/>
<rect x="419.4" y="427" width="7" height="10" fill="#c9122f"/>
<rect x="419.4" y="437" width="7" height="83.1" fill="#3bb54a"/>
<line x1="422.9" y1="520.1" x2="422.9" y2="522.7" stroke="#1a1a1a" stroke-width="0.9"/>
<text transform="translate(426.7 530.4) rotate(-45)" x="-29.6" font-size="7.7" textLength="29.6" lengthAdjust="spacingAndGlyphs" fill="#231f20">ERT-HCT</text>
<rect x="431.3" y="418" width="7" height="25.8" fill="#155088"/>
<rect x="431.3" y="443.8" width="7" height="76.3" fill="#3bb54a"/>
<line x1="434.8" y1="520.1" x2="434.8" y2="522.7" stroke="#1a1a1a" stroke-width="0.9"/>
<text transform="translate(438.6 530.4) rotate(-45)" x="-37.4" font-size="7.7" textLength="37.4" lengthAdjust="spacingAndGlyphs" fill="#231f20">ERT-GT(Rv)</text>
<rect x="443.2" y="418" width="7" height="102.1" fill="#3bb54a"/>
<line x1="446.7" y1="520.1" x2="446.7" y2="522.7" stroke="#1a1a1a" stroke-width="0.9"/>
<text transform="translate(450.5 530.4) rotate(-45)" x="-37" font-size="7.7" textLength="37" lengthAdjust="spacingAndGlyphs" fill="#231f20">ERT-GT(Lv)</text>
<rect x="466" y="418" width="7" height="7.6" fill="#155088"/>
<rect x="466" y="425.6" width="7" height="6.2" fill="#c9122f"/>
<rect x="466" y="431.8" width="7" height="88.3" fill="#3bb54a"/>
<line x1="469.5" y1="520.1" x2="469.5" y2="522.7" stroke="#1a1a1a" stroke-width="0.9"/>
<text transform="translate(473.3 530.4) rotate(-45)" x="-14.2" font-size="7.7" textLength="14.2" lengthAdjust="spacingAndGlyphs" fill="#231f20">HCT</text>
<rect x="477.9" y="418" width="7" height="11.4" fill="#c9122f"/>
<rect x="477.9" y="429.4" width="7" height="90.7" fill="#3bb54a"/>
<line x1="481.4" y1="520.1" x2="481.4" y2="522.7" stroke="#1a1a1a" stroke-width="0.9"/>
<text transform="translate(485.2 530.4) rotate(-45)" x="-29.6" font-size="7.7" textLength="29.6" lengthAdjust="spacingAndGlyphs" fill="#231f20">ERT-HCT</text>
<rect x="489.8" y="418" width="7" height="102.1" fill="#3bb54a"/>
<line x1="493.3" y1="520.1" x2="493.3" y2="522.7" stroke="#1a1a1a" stroke-width="0.9"/>
<text transform="translate(497.1 530.4) rotate(-45)" x="-37.4" font-size="7.7" textLength="37.4" lengthAdjust="spacingAndGlyphs" fill="#231f20">ERT-GT(Rv)</text>
<rect x="501.7" y="418" width="7" height="102.1" fill="#3bb54a"/>
<line x1="505.2" y1="520.1" x2="505.2" y2="522.7" stroke="#1a1a1a" stroke-width="0.9"/>
<text transform="translate(509 530.4) rotate(-45)" x="-37" font-size="7.7" textLength="37" lengthAdjust="spacingAndGlyphs" fill="#231f20">ERT-GT(Lv)</text>
<text x="294.5" y="571" font-size="8.7" textLength="34.3" lengthAdjust="spacingAndGlyphs" fill="#231f20">Pre-FDCT</text>
<text x="299.3" y="580.4" font-size="8.7" textLength="24.5" lengthAdjust="spacingAndGlyphs" fill="#231f20">p&lt;0.01</text>
<text x="354.3" y="571" font-size="8.7" textLength="32.7" lengthAdjust="spacingAndGlyphs" fill="#231f20">6 months</text>
<text x="358" y="580.4" font-size="8.7" textLength="25" lengthAdjust="spacingAndGlyphs" fill="#231f20">p=0.24</text>
<text x="418" y="571" font-size="8.7" textLength="21.3" lengthAdjust="spacingAndGlyphs" fill="#231f20">1 year</text>
<text x="415.8" y="580.4" font-size="8.7" textLength="25" lengthAdjust="spacingAndGlyphs" fill="#231f20">p=0.96</text>
<text x="470.4" y="571" font-size="8.7" textLength="33.4" lengthAdjust="spacingAndGlyphs" fill="#231f20">2–5 years</text>
<text x="474.3" y="580.4" font-size="8.7" textLength="25.4" lengthAdjust="spacingAndGlyphs" fill="#231f20">p=0.92</text>
<text x="392.5" y="597" font-size="10.2" textLength="13.8" lengthAdjust="spacingAndGlyphs" fill="#231f20" stroke-width="0">PHA</text>
<rect x="319.5" y="603" width="5" height="5" fill="#155088"/>
<text x="327" y="608.3" font-size="8.6" textLength="42.5" lengthAdjust="spacingAndGlyphs" fill="#231f20">&lt;10% of LLN</text>
<rect x="379.8" y="603" width="5" height="5" fill="#c9122f"/>
<text x="387.4" y="608.3" font-size="8.6" textLength="50" lengthAdjust="spacingAndGlyphs" fill="#231f20">10–30% of LLN</text>
<rect x="447.2" y="603" width="5" height="5" fill="#3bb54a"/>
<text x="454.7" y="608.3" font-size="8.6" textLength="43.4" lengthAdjust="spacingAndGlyphs" fill="#231f20">&gt;30% of LLN</text>
<text transform="translate(261.4 478.7) rotate(-90)" x="-37.5" y="0" font-size="9.4" textLength="75" lengthAdjust="spacingAndGlyphs" fill="#231f20">Group distribution (%)</text>
<rect x="0.5" y="0.5" width="519" height="622" fill="none" stroke="#000" stroke-width="1"/>
<line x1="518.5" y1="0" x2="518.5" y2="623" stroke="#000" stroke-width="1" stroke-opacity="0.3"/>
<line x1="0" y1="621.5" x2="520" y2="621.5" stroke="#000" stroke-width="1" stroke-opacity="0.3"/>
</svg></body></html>
